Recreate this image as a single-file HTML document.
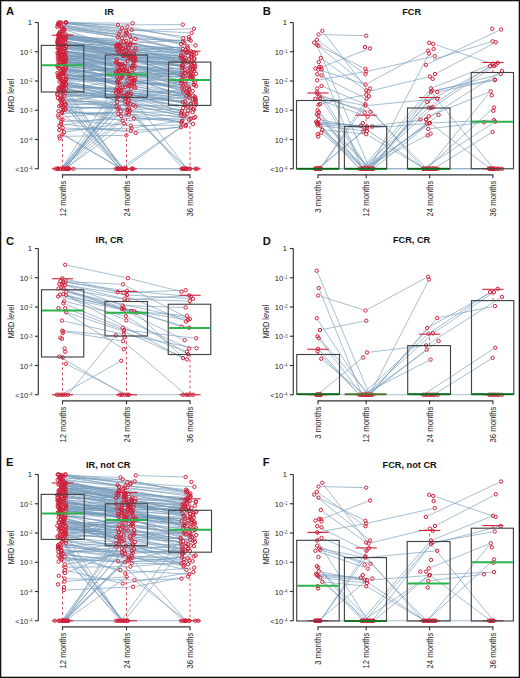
<!DOCTYPE html>
<html><head><meta charset="utf-8"><style>html,body{margin:0;padding:0;background:#fff}svg{display:block}</style></head><body>
<svg width="520" height="678" viewBox="0 0 520 678">
<style>
text{font-family:"Liberation Sans",sans-serif;fill:#1e1e1e}
.let{font-size:11.2px;font-weight:bold;fill:#111}
.ttl{font-size:9.2px;font-weight:bold;fill:#111}
.ytl{font-size:8.9px}
.tk{font-size:7.6px}
.sp{font-size:4.6px;fill:#555}
.xl{font-size:8.7px}
.ax{fill:none;stroke:#333;stroke-width:1.15}
.ln{fill:none;stroke:#7399b8;stroke-width:0.8;stroke-opacity:0.8}
.pt circle{fill:none;stroke:#cf2039;stroke-width:1.0}
.bx{fill:none;stroke:#444;stroke-width:1.15}
.md{fill:none;stroke:#2cb34a;stroke-width:2}
.mb{fill:none;stroke:#11601f;stroke-width:1.7}
.cb{fill:none;stroke:#7a4a22;stroke-width:1.1}
.wh{fill:none;stroke:#cf2039;stroke-width:0.8;stroke-dasharray:2.6 2.6}
.st{fill:none;stroke:#cf2039;stroke-width:1.1}
</style>
<rect width="520" height="678" fill="#fff"/>
<path d="M64.21,37.76L127.16,44.91M132.32,45.56L184.13,52.78M131.77,84.74L182.33,70.72M62.4,34.28L117.54,46.53M68.1,22.79L129.04,29.53M134.22,29.95L189,32.81M68.19,39.73L114.68,44.2M65.49,58.64L130.31,65.83M135.49,66.27L190.64,69.42M61.58,117.25L118.37,111.62M67.03,55.42L117.38,64.09M122.52,64.88L182.75,72.94M62.93,99.1L132.98,106.44M67.06,86.27L120.8,95.99M125.88,97.09L179.52,110.67M123.58,90.96L188.57,103.02M68,42.46L114.13,49.35M119.29,50L180.27,56.19M68.74,58.1L114.2,59.69M119.39,59.89L191.16,62.94M66.09,28.45L123.04,35.01M128.13,36.02L184,51.96M63.67,70.98L124.95,83.98M130.03,85.1L190.27,98.95M65.86,110.09L123.82,104.63M128.96,104.91L178.28,114.94M64.74,113.33L115.55,113.67M120.73,114.01L179.02,121.37M66.55,64.76L116.14,78.32M121.21,79.42L186.33,89.87M67.77,65.9L126.24,85.08M67.03,102.05L126.45,100.58M131.65,100.37L192.38,97.03M68.43,84.64L125.68,99.1M130.71,100.4L182.17,113.97M64.18,45.54L119.18,52.07M124.33,52.79L179.83,61.71M62.79,47.59L128.47,56.65M133.64,57.06L191.72,58.28M67.06,60.65L126.06,75.17M62.09,77.88L114.54,82.02M68.06,54.87L119.52,66.34M124.64,67.19L186.79,73.94M64.34,32.88L132.97,47.68M138.01,48.95L188.84,63.72M64.96,107.1L126.51,108.22M66.5,45.08L122.56,54.22M63.31,124.1L133.12,132.64M138.28,132.6L182.97,126.49M68.66,88.16L114.72,81.66M119.85,81.76L186.77,93.79M68.11,56.5L123.69,52.92M128.87,53L186.53,58.56M61.9,44.59L124.15,49.89M129.31,50.48L178.43,57.5M68.84,61.41L132.37,79.22M137.35,80.73L186.74,96.75M61.07,65.12L114.84,72.88M120.01,73.4L189.84,77.33M65.09,83.56L123.34,94.15M128.49,94.39L181.53,89.85M60.4,56.26L113.53,61.88M118.64,62.79L180.22,78.24M67.32,71.65L129.46,68.24M134.63,68.48L189.62,76.63M68.76,46.79L182.37,72.25M66.96,58.31L120.17,71.82M125.26,72.89L191.24,83.91M63.78,121.58L131.27,118.59M136.47,118.52L186.28,119.56M61.2,52.59L131.67,61.05M136.85,61.46L188.41,63.42M63.21,86.35L114.38,88.1M119.42,89.08L184.82,112.91M66.62,63.44L116.19,64.1M121.3,64.8L178.19,79.72M131.46,73.36L192.64,66.59M62.16,75.44L127.66,76.22M132.86,76.07L188.51,72.08M64.49,112.02L123.95,112.88M65.11,92.38L115.87,94.94M121.03,95.5L188.23,106.73M67.02,84.01L113.45,92.32M61.1,24.54L115.2,36.57M61.85,33.42L128.07,43.67M133.22,44.38L188.19,50.95M64.48,29.65L120.38,47.8M125.45,48.82L191.05,54.34M60.02,73.53L129.03,83.68M65.39,69.85L119.52,76.4M124.7,76.7L188.74,76.55M60.25,67.3L118.22,78.07M123.35,78.94L186.59,88.57M60.09,94.87L114.65,98.04M61.6,89.26L119.9,95.71M125.08,96.22L182.64,101.29M63.44,37.09L121.26,41.51M126.41,42.18L188.85,53.62M67.16,96.27L124.36,94.25M129.53,94.55L193.18,104.42M62.69,51.12L130.29,64.81M60.29,48.54L120.65,55.51M125.76,56.42L186.1,70.82M67.48,103.81L130.69,105.11M135.83,105.7L191.1,117.41M65.96,80.91L129.27,82.61M134.46,82.78L191.73,84.91M62.05,136.32L123.78,135.41M62.8,90.4L116.24,91.79M121.36,92.49L180.66,107.35M68.99,76.26L126.47,74.93M131.56,75.64L180.7,90.84M64.19,80.95L127.49,94.97M132.63,95.5L186.47,94.94M61.13,77L131.52,83.36M136.71,83.54L192.59,82.41M62.71,62.75L124.7,71.31M129.87,71.81L188.46,75.01M63.24,105.25L114.39,102.22M119.57,102.37L185.53,110.17M66.65,131.79L121.23,123.68M61.93,125.46L126.25,114.88M131.42,114.55L181.49,116.2M61.92,23.49L119.43,27.98M124.6,28.53L186.12,36.78M65.78,91.93L113.98,105.25M119.08,105.92L182.47,105.51M62.75,40.3L116.02,51.47M68,34.97L117.81,45.78M61.02,54.74L132.76,76.86M66.99,38.53L126.99,50M132.14,50.31L184.56,46.77M65.04,73.23L132.66,87.2M64.38,55.75L127.31,58.09M132.37,59.02L187.54,77.58M65.71,64.79L113.45,71.69M118.62,72.17L178.57,74.58M64.98,100.06L127.37,110.17M68.51,79.86L129.12,78.16M134.28,78.57L179.4,87.16M61.68,35.75L118.31,42.33M123.47,42.98L184.7,51.37M62.32,50.36L121.69,68.91M61.33,87.65L128.69,88.61M133.86,89L183.8,95.88M59.93,94.03L123.61,97.28M128.8,97.63L180.04,101.96M60.88,25.68L123.09,33.16M128.24,33.89L181.79,42.63M62.16,61.06L131.29,80.15M136.4,80.76L179.41,79.42M62.82,79.56L128.86,81.68M60.46,40.42L119.19,48.62M68.64,78.22L116.51,71.63M60.27,42.8L122.36,53.45M127.52,54.09L191.64,59.08M68.51,37.05L114.8,45.13M119.93,46.03L182.16,56.95M68.92,47.29L127.14,56.21M132.27,57.04L187.6,66.34M64.54,43.88L116.14,51.25M121.28,52.03L184.33,62.17M68.54,46.31L131.82,56.97M136.93,57.91L190.43,68.59M68.87,22.67L124.85,26.39M129.99,27.1L180.63,37.77M64.92,87.77L125.32,102.23M130.42,102.45L185.73,93.98M65.66,69.72L116.42,82.5M121.54,83.24L193.53,86.22M62.23,52.65L130.54,53.48M135.73,53.62L178.78,55.4M60.87,74.21L115.17,68M120.26,68.39L180.55,84.97M68.5,68.41L131.96,85.67M137.03,86.75L190.6,95.17M61.1,35.93L123.5,40.6M128.6,41.5L178.06,55.28M63.68,36.17L128.52,39.74M133.67,40.33L180.29,48.52M68.27,51.56L129.54,58.3M134.58,59.44L190.52,78.95M61.52,60.15L116.86,70.02M121.95,71.08L186.04,86.38M65.52,74.55L117.29,84.48M68.75,78.78L115.85,74.29M121.01,74.42L182.79,83.31M63.61,54.85L133.14,60.36M138.31,60.87L190.65,66.94M66.35,88.66L127.7,103.02M65.89,44.28L120.84,54.54M125.98,55.34L191.9,63.65M61.9,36.75L113.52,45.52M118.68,46.03L185.42,47.72M66.07,73L116.42,88.35M121.48,89.48L192.94,99.82M68.04,67.76L114.52,76.68M62.43,57.69L120.54,73.75M62,75.17L124.7,80.18M129.87,80.73L184.27,87.96M68.57,38.87L115.85,48.82M120.99,49.5L193.71,53.47M65.76,59.59L132.15,65.49M137.3,66.16L190.21,75.18M61.86,130L129.05,128.2M134.22,127.74L179.74,120.96M61.75,106.35L115.07,108.91M120.27,109.06L191.44,109.63M62.39,47.27L113.57,61.84M118.62,63.07L180.28,75.56M63.16,71.26L131.76,68.98M136.88,69.54L179.17,80.39M66.34,51.28L130.63,59.83M135.78,60.51L192.2,67.83M60.01,43.43L124.02,55.72M129.17,56.37L180.61,59.59M67.16,62.89L121.14,66.35M63.54,22.98L124.25,32.17M129.36,33.11L178.49,43.68M64.02,27.79L127.29,35.89M132.39,36.85L191.15,51.57M63.24,48.53L123.41,47.51M60.53,43.48L132.02,50.61M137.16,51.37L182.31,60.2M63.16,22.53L129.99,23.28M61.57,42.17L119.25,50.86M124.41,51.46L188.39,56.71M62.6,50.67L130.77,61.35M135.94,61.75L189.23,61.65M61.16,49.84L114.94,62.36M120.05,63.28L187.32,72.02M63.6,37.58L126.03,47.44M131.2,47.95L182.98,50.05M60.91,62.1L122.6,63.29M127.8,63.46L179.37,65.73M61.07,43.03L126.36,52.75M131.45,53.77L187.59,67.99M65.63,76.5L125.78,91.68M130.86,92.8L188.05,103.67M60.93,44.12L116.94,44.8M122.12,45.19L189,54.67M63.94,26.44L116.13,34.02M121.28,34.76L192.93,45.05M67.78,93.82L126.36,111.39M131.45,112.14L189.9,112.14M61.43,66.16L129.72,72.61M134.88,73.28L182.68,81.27M68.41,69.42L120.35,86.02M62.08,82.14L115.76,90.54M120.93,90.99L184,92.22M63.87,57.61L119.33,63.47M124.45,64.29L184.91,77.39M60.61,47.86L125.61,55.13M66.35,61.98L119.78,74.73M66.22,92.09L122.29,100.89M127.4,101.82L178.4,112.44M61.08,22.81L123.45,30.41M128.63,30.65L191.3,28.84M65.89,85.55L116.55,89.37M66.12,107.85L116.06,107.51M121.19,108.1L178.92,122.19M66.25,41.13L131.08,53.77M136.21,54.57L181.02,59.92M59.89,27.21L119.38,37.6M68.02,110.02L120.01,120.38M125.16,120.75L192.69,117.25M67,29.89L132.94,38.62M138.12,39.05L188.08,40.6M60.51,58.7L132.15,58.97M137.33,59.3L179.95,64.59M66.35,55.54L125.24,60.74M130.43,61.17L180.75,65.17M67.91,61.44L120.74,69.68M125.76,70.94L185.81,92.07M65.61,83.3L123.07,98.31M128.17,99.27L184.35,106.02M63.78,39.09L124.93,43.36M130.12,43.37L186.45,39.66M62.73,100.22L128.24,93.94M60.35,24.96L117.36,31.35M122.51,32.06L180.26,41.45M66.95,64L116.85,69.03M66.48,53.78L132.66,57.64M137.85,57.97L182.36,61M68.32,22.62L115.35,24.82M120.55,24.92L180.19,24.6M123.38,65.23L193.43,73.45M60.01,53.51L127.11,67.95M61.48,68.57L130.7,79.08M135.75,80.24L192.95,98.1M66.37,71.57L122.31,86.59M127.38,87.67L192.34,97.81M61.95,52.66L123.46,70.16M60.99,41.82L130.8,58.77M135.86,59.95L179.93,69.92M61.02,89.75L114.85,96.58M120.02,96.7L190.12,91.15M61.09,111.36L118.63,115.85M123.8,116.34L190.35,123.63M64.41,102.48L113.6,93.69M118.75,93.55L193.23,102.52M64.64,81.73L118.59,90.96M123.73,91.73L192.86,100.53M65.02,97.68L125.11,109.32M130.24,110.18L188.11,118.41M60.65,35.59L117.17,46.23M60.42,97.65L113.71,90.38M62.01,59.35L122.16,66.98M127.24,68L178.62,82.32M65.15,119.83L128.19,125.48M133.38,125.68L183.2,125.06M65.29,128.08L128.2,130.44M133.39,130.37L178.48,127.41M67.31,166.64L123.29,89.37M66.93,166.64L116.95,97.18M64.03,166.84L123.09,103.2M65.07,166.83L115.92,110.96M64.09,166.95L128.36,105.41M67.51,167.21L131.77,120.01M63.9,166.65L128.72,78.35M62.96,166.77L132.42,85.57M67.7,167.05L126.85,116.16M62.56,166.58L120.66,78.88M66.36,166.69L133.65,79.69M63.75,167.07L126.86,113.81M62.94,166.79L129.58,90.6M66.15,104.07L121.2,166.8M64.74,135.57L119.72,167.45M63.77,113.78L119.44,166.95M61.85,102.43L118.31,166.8M63.62,104.84L121.25,166.85M67.58,90.65L120.64,166.62M66.21,98.37L122.42,166.74M63.92,89.26L120.55,166.65M64.72,135.59L118.13,167.42M64.09,99.21L117.99,166.72M68.18,168.75L117.65,168.75M65.33,168.75L119.43,168.75M125.62,167.23L193.17,118.64M122.18,167.28L193.14,118.59M131.63,97.58L185.52,166.7M120.18,97.03L181.09,166.79M129.51,111.64L185.56,166.92M130.71,113.96L184.81,166.93M122.68,168.75L183.1,168.75M125.58,168.75L185.19,168.75" class="ln"/>
<path d="M317.77,47.14L368.65,166.36M319.72,64.41L360.93,166.34M320.73,70.29L363.02,83.71M318.18,94.42L365.51,166.58M322.55,103.49L363.7,95.26M319.23,112.19L367.94,166.81M320.33,114.32L360.26,166.68M319.74,124.68L357.69,166.82M319.3,127.12L357.63,166.88M323.26,134.4L363.16,167.1M319.57,167.1L360.99,133.15M318.77,168.75L369.93,168.75M367.79,83.26L425.81,51.94M370.87,166.44L427.81,55.91M369.58,126.19L423.52,119.71M371.39,166.8L435.58,93.95M372.26,166.77L425.42,103.98M363.76,167L426.68,109.45M367.1,167L431.07,109.05M368.35,167.2L436.51,116.55M370.45,167.16L424.64,125.29M364.16,167.57L428.28,134.78M369.53,168.75L429.57,168.75M429.37,100.74L495.43,64.06M430.75,106.24L487.85,67.56M435.15,105.84L491.75,67.56M428.29,118L499.81,72.3M439.85,91.47L492.35,80.63M425.47,167.33L493.02,123.12M435.85,167.37L490.4,133.28M428.09,168.75L489.97,168.75M321.1,34.57L363.6,35.63M320.83,46.85L363.07,67.65M323.63,66.27L367.57,49.43M319.76,79.84L363.64,71.96M437.31,72.8L493.49,43.5M433.42,87.44L490.48,64.76M434.66,90.15L492.14,79.95M323.88,32.87L366.92,89.33M319.02,41.3L363.28,72.7M316.21,44.25L367.99,86.85M322.91,59.51L364.09,88.99M319.53,75.36L364.17,97.64M323.9,87L363,103.2M319.62,94.66L362.18,111.64M321.75,97.01L362.85,105.19M322.81,98.69L367.99,111.11M317.86,99.63L365.24,115.67M321.36,119.97L362.04,127.53M318.79,122.03L358.21,125.47M319.5,123.26L369.7,126.34M320.79,124.42L364.31,128.08M322.88,126L364.32,130.8M324.89,130.06L363.61,133.94M368.74,70.93L432.16,56.67M371.03,90.79L427.37,77.21M367.99,105.45L434.61,99.05M369.49,128.1L426.61,123.6M435.66,44.73L493.14,64.07M428.25,63.79L498.75,30.61M433.52,91.45L498.18,74.65M431.21,115.33L488.29,92.27M432.5,122.88L491.4,120.22M430.88,128.59L481.52,122.61M321.77,166.64L363.89,107.81M320.37,167.09L364.9,129.96M321.82,166.59L367.45,98.36M318.6,116.17L362.21,166.78M318.04,123.64L361.33,166.91M318.59,90.7L366.57,166.55M324.27,131.5L365.6,167.05M320.01,117.56L368,166.89M320.06,168.75L358.87,168.75M374.14,166.68L430.52,92.67M366.65,166.78L430.41,92.57M375.64,167.11L427.88,124.64M365.31,167.28L427.76,124.47M363.51,166.78L429.3,90.37M362.96,127.15L422.57,167.3M367.13,106.14L421.46,166.81M367.21,107.57L424.75,166.88M368.44,135.52L422.49,167.43M376.23,168.75L422.13,168.75M428.88,166.74L489.05,93.31M428.48,167L492.08,109.25M431.98,124.57L488.48,167.18M432.64,94.11L491.97,166.74M429.16,168.75L489.49,168.75M432.98,59.73L490.12,42.07" class="ln"/>
<path d="M61.64,357.82L122.27,393.43M68.12,364.97L124.94,393.58M69.56,392.73L114.17,337.42M63.48,393.47L118.94,362.08M61.1,394.75L124.66,394.75M67.74,265.34L125.36,277.56M130.42,278.74L178.98,291.06M125.08,342.88L184.11,393.07M124.46,394.75L187.73,394.75M64.83,278.9L120.97,292.1M63,281.33L120.3,284.27M68.35,282.02L115.15,291.58M65.88,282.45L124.32,290.45M61.97,284.42L124.33,294.58M64.83,284.6L121.87,298.2M67.65,285.88L120.05,304.72M63.86,288.36L125.14,299.34M61,289.23L121,306.77M65.75,289.36L119.45,308.14M68.68,292.47L121.72,308.83M65.82,294.82L128.68,310.38M62.54,295.17L131.46,310.73M68.6,296.21L123.9,319.39M60.65,297.03L133.95,312.17M66.73,301.91L123.27,315.59M65.7,304.29L120.1,326.71M60.7,309.48L121.6,347.82M67.64,309L121.76,329.1M68.67,313.11L121.33,330.39M64.44,321.17L121.26,333.83M64.89,330.86L121.81,336.64M65.87,331.92L120.53,340.78M125.21,285.59L187.49,317.81M129.49,291.03L188.21,296.27M120.09,293.13L183.61,320.47M126.1,292.6L183,290.3M129.5,295.15L190.5,298.65M127,298.9L187.2,301.1M130.29,299.61L186.61,295.59M125.1,305.68L183,307.42M125.97,308.32L179.03,325.88M124.23,310.16L182.27,339.04M126.77,310.02L185.33,319.58M133.7,311.72L186.7,326.98M136.59,311.52L184.31,315.58M138.36,314.51L181.24,356.29M128.02,317.56L185.68,352.84M128.67,321.46L186.83,347.44M124.94,328.61L184.46,350.79M126.78,330.3L193.62,338M126.17,332.26L184.53,358.34M126.35,334.89L193.95,347.81M68.49,296.43L180.81,356.87M68.74,292.26L187.26,318.44" class="ln"/>
<path d="M317.77,273.14L368.65,392.36M319.72,290.41L360.93,392.34M320.73,296.29L363.02,309.71M318.18,320.42L365.51,392.58M322.55,329.49L363.7,321.26M319.23,338.19L367.94,392.81M320.33,340.32L360.26,392.68M319.74,350.68L357.69,392.82M319.3,353.12L357.63,392.88M323.26,360.4L363.16,393.1M319.57,393.1L360.99,359.15M318.77,394.75L369.93,394.75M367.79,309.26L425.81,277.94M370.87,392.44L427.81,281.91M369.58,352.19L423.52,345.71M371.39,392.8L435.58,319.95M372.26,392.77L425.42,329.98M363.76,393L426.68,335.45M367.1,393L431.07,335.05M368.35,393.2L436.51,342.55M370.45,393.16L424.64,351.29M364.16,393.57L428.28,360.78M369.53,394.75L429.57,394.75M429.37,326.74L495.43,290.06M430.75,332.24L487.85,293.56M435.15,331.84L491.75,293.56M428.29,344L499.81,298.3M439.85,317.47L492.35,306.63M425.47,393.33L493.02,349.12M435.85,393.37L490.4,359.28M428.09,394.75L489.97,394.75" class="ln"/>
<path d="M61.57,503.79L131.18,506.94M136.37,507.31L190.75,512.5M67.6,506.15L124.22,519.46M60.93,555.09L121.56,541.21M126.5,541.62L181.92,564.27M62.32,544.53L119.27,551.76M124.45,552.05L187.22,551.03M62.53,502.44L116.26,507.97M121.44,508.45L179.96,513.13M64.88,490.82L132.92,498.22M138.1,498.56L185.19,499.65M60.32,507.47L129.86,518.83M135.02,519.45L191.16,523.91M126.68,500.94L187.5,516.3M65.54,510.69L122,516.24M127.15,516.97L192.04,529.02M60.66,545.53L128.84,555.44M134.01,555.98L181.44,559.16M60.66,549.26L126.48,556.46M131.67,556.77L179.42,557.34M62.07,513.96L124.95,514.51M130.15,514.65L191.43,517.41M64.03,515.57L115.25,528.16M120.34,529.19L190.31,540.17M63.38,485.16L116.51,489.84M121.67,490.47L183,499.9M67.57,518.66L116.54,531.25M121.66,531.91L186.53,532.23M67.03,521.35L121.08,527.25M126.17,528.21L188.25,544.76M63.88,489.65L127.76,504.88M132.84,506L182.08,515.82M63.81,496.77L124.25,502.33M129.44,502.69L192.36,505.5M65.44,538.09L125.67,530.96M130.84,530.9L186.77,536.16M66.39,481.53L122.22,494.73M127.35,495.41L187.31,497.3M63.94,528.02L127.39,535.94M132.55,536.59L178.25,542.33M65.93,492.22L125.92,505.33M68.43,498.14L129.35,500.65M134.53,501.04L180.35,505.93M65.29,554.11L122.22,561.96M127.39,562.1L191.13,556.61M63.53,477.49L122.9,485.49M128.07,486.04L184.51,490.42M68.84,532.68L131.6,530.14M61.18,561.29L130.16,553.32M61.02,518.18L118.71,533.72M123.82,534.6L187.78,539.67M62.19,501.6L126.05,506.09M131.25,506.3L182.25,506.78M66.06,540.08L120.18,554.22M125.23,555.48L183.87,569.31M67.82,536.35L131.54,548.8M62.7,557.79L129.19,563.05M134.38,563.3L185.52,564.22M65.09,525.78L116.75,538.75M63.51,530.82L133.28,518.9M138.42,518.83L181.56,524.95M64.03,550.26L127.62,558.28M132.8,558.68L186.85,560.25M63.89,485.79L121.66,488.27M126.85,488.62L186.93,494.24M67.01,485.93L113.56,497.42M118.65,498.47L179.69,508.74M62.44,512.16L116.13,516.67M121.32,516.96L182.59,518.66M62.7,532.94L126.1,524.15M62.27,499.44L127.06,506.39M132.24,506.83L184.19,510.18M63.95,480.89L121.18,492.11M126.31,492.95L193.19,501.73M67.89,484.65L122.02,494.41M127.15,495.24L181.47,502.89M62.3,508.86L121.81,515.8M126.97,516.47L181.87,524.34M61.56,490.65L130.65,503.82M135.77,504.77L190.58,514.67M130.37,517.69L187.77,518.11M65.33,521.81L119.87,526.68M125.05,527.1L182.3,531.36M63.69,511.08L121.27,517.01M126.46,517.41L185.14,520.39M60.96,485.02L123.39,496.22M60.76,547.22L179.58,554.26M67.22,482.99L115.66,491.33M120.81,492.02L183.85,498.1M64.86,509.39L130.14,511.31M135.23,512.14L192.35,529.41M66.54,589.96L130.62,587.01M135.77,586.4L185.39,576.99M68.35,483.51L125.96,493.52M65.01,499.51L116.16,514.2M121.25,515.08L188.51,519.17M60.46,474.98L124.62,487.05M129.75,487.89L188.06,496.06M64.01,554.94L125.56,560.24M130.68,559.86L179.74,548.12M61.06,513.04L118.86,503.89M124,503.87L187.44,513.55M61.35,529.42L120.01,522.24M67.36,570.72L120.18,582.92M125.28,583.1L190.76,572.52M64.22,517.94L130.92,544.05M135.91,545.38L180.18,552.06M61.27,494.39L128.08,506.97M133.23,507.61L193.75,511.38M62.1,478.27L120.03,479.33M125.18,479.86L184.37,491.1M68.93,506.29L122.95,513.78M128.1,514.45L189.7,522M61.84,527.94L129.61,520.94M134.74,521.24L187.63,533.06M63.74,551.76L122.8,572.52M127.84,573.17L191.61,567.92M64.84,501.4L114.04,508.27M119.14,509.25L187.7,525.89M66.33,488.34L120.31,489.18M125.47,489.67L187.18,500.44M68.7,525.84L121.72,519.18M67.17,581.33L124.05,576.96M67.38,572.05L121.5,551.17M126.52,549.98L185.75,544.29M65.39,487.28L129.47,499.37M134.58,500.35L193.26,511.65M66.17,520.93L119.94,540.37M68.51,495.85L119.28,504.65M59.97,500.81L130.23,515.19M135.36,516.03L192.43,523.19M63.49,520.26L129.17,539.28M134.2,540.56L182.58,551.12M65.3,541.63L113.78,547.15M62.2,527.46L130.95,534.75M136.14,534.91L181.29,533.05M62.1,510.02L133.32,519.3M68.26,474.76L132.03,481.07M137.15,481.88L187.84,492.96M63.91,493.3L113.72,503.4M118.86,504.16L186.35,510.7M68.03,567.26L127.8,566.65M132.99,566.42L180.95,562.51M68.66,534.93L113.89,536.78M119.09,536.95L177.94,538.43M63.41,528.88L115.93,532.35M121.11,532.75L191.61,538.96M64.07,542.94L126.63,558.89M60.44,474.8L124.71,482.15M129.89,482.62L191.81,486.72M62.72,520.06L116.4,543.34M121.25,545.21L180.82,565.4M61.76,522.73L130.27,526.16M135.43,526.76L189.5,536.63M66.94,532.63L132.32,541.53M61.95,512.74L115.34,513.7M120.37,514.67L178.15,536.86M62.46,535.43L116.34,537.42M121.5,537.94L185.51,548.48M65.92,486.34L123.19,492.77M128.32,493.58L179.43,503.92M61.19,491.2L128.01,498.66M133.19,499.12L183.69,502.49M62.5,509.43L130.45,522.67M60.24,480.07L114.91,484.77M120.09,485.28L183.14,492.27M66.66,488.1L129.41,501.57M134.54,502.43L183.47,508.27M68.05,529.6L128.17,538.39M133.34,538.89L180.57,541.14M64.3,537.12L129.96,543.5M135.15,543.8L178.99,544.68M62.86,482.4L116.25,490.53M121.4,491.23L184.37,498.8M62.19,503.48L122.51,507.67M127.6,508.57L188.87,526.38M67.3,578.73L131.86,580.08M137.06,580.05L178.82,578.78M61.6,499.73L125.68,504.51M130.87,504.84L188.83,507.85M64.58,531.93L121,535.48M126.13,536.25L179.6,548.99M68.7,540.61L123.35,545.39M128.48,546.15L184.99,557.83M65.36,525.43L116.34,541.71M68.15,530.2L117.84,529.45M60.42,504.25L128.65,509.61M67.24,557.23L117.75,569.39M122.88,570.16L186.7,574.14M63.4,552.57L128.1,546.75M133.29,546.59L185.6,548.13M68.57,543.8L129.82,557.12M134.95,557.97L178.86,562.98M63.45,524.29L123.95,528M129.09,528.67L192.46,541.45M63.25,502.82L118.43,508.75M123.61,509.06L178.5,509.73M60.96,551.82L129.2,551.19M66.29,493.42L123.52,499.14M128.7,499.48L193.33,501.4M66.88,534.93L119.37,547.76M124.49,548.62L193.11,555.15M67.47,515.86L128.31,525.27M133.46,526.03L193.61,534.65M67.34,496.43L119.41,509.94M124.52,510.47L185.52,507.52M66.96,523.53L130.54,521.39M135.71,521.71L190.04,530.44M66.31,519.07L131.97,533.22M137.06,534.25L183.52,542.87M62.08,479.11L116.32,486.34M66.27,476.34L128.03,483.02M133.2,483.59L183.41,489.36M63.8,513.59L116.92,524.52M122.07,525.15L180.43,527.6M67.59,490.09L129.65,497.29M68.58,489.14L132.39,500.75M137.54,501.41L181.85,504.83M67.46,563.99L122.44,554.4M127.59,553.79L180.03,550.45M68.28,516.44L130.38,515.36M67.57,526.87L122.11,531.08M127.22,531.92L183.13,546.18M62.47,507.98L129.71,512.39M64.14,516.24L121.77,522.28M126.95,522.56L185.04,522.9M67.65,491.76L125.51,502.55M64.68,475.6L117.83,477.34M61.86,545.98L113.58,543.26M118.74,543.52L180.3,553.03M61.66,505.1L119.48,511.87M63.97,505.39L128.24,510.77M133.38,511.5L179.05,520.61M65.48,487.75L123.84,501.09M128.97,501.76L184.56,503.75M68.28,492.22L115.59,495.59M66.48,498.36L121.35,497.19M62.45,489.64L115.97,494.2M64.17,559.58L115.65,561.3M120.85,561.39L190.15,561.31M65.92,507.52L118.58,509.33M123.77,509.68L180.95,515.47M138.43,475.55L182.95,476.9M68.16,511.27L129.41,513.26M134.53,513.96L181.36,525.3M64.88,488.19L113.84,493.25M61.51,500.45L118.85,512.42M123.98,513.21L189.28,519.67M61.15,522.74L118,537.48M68.23,484.35L121.63,495.69M68.46,508.33L124.75,511.63M129.94,511.89L190.24,514.43M63.35,475.31L127.82,483.8M68.5,506.83L124.66,510.06M59.99,535.95L129.4,524.83M134.52,524.91L188.19,535.22M62.61,510.37L123.48,517.75M128.57,518.75L183.06,533.64M66.72,618.91L127.22,558.58M63.89,618.69L122.5,542.69M67.15,618.52L117.19,534.76M65.01,618.94L130.88,554.83M67.36,619.24L124.53,578.27M65.87,618.75L130,542M64.74,618.78L122.23,552.2M66.27,618.94L122.93,564.13M63.68,618.63L119.02,540.26M64.42,555.73L118.88,618.78M59.79,547.12L121.99,618.79M63.15,544.34L121.21,618.7M67.56,545.35L120.68,618.64M67.47,537.01L120.22,618.57M64.27,543.42L120.23,618.66M60.13,553.75L120.55,618.84M65.04,620.75L119.13,620.75M64.02,620.75L120.7,620.75M122.69,618.64L179.01,540.6M125.79,618.74L188.73,541.89M125.65,552.18L184.25,618.8M136.51,581.73L184.43,619.15M120.17,563.14L181.78,619M122.64,620.75L181.35,620.75" class="ln"/>
<path d="M321.1,486.57L363.6,487.63M320.83,498.85L363.07,519.65M323.63,518.27L367.57,501.43M319.76,531.84L363.64,523.96M437.31,524.8L493.49,495.5M433.42,539.44L490.48,516.76M434.66,542.15L492.14,531.95M323.88,484.87L366.92,541.33M319.02,493.3L363.28,524.7M316.21,496.25L367.99,538.85M322.91,511.51L364.09,540.99M319.53,527.36L364.17,549.64M323.9,539L363,555.2M319.62,546.66L362.18,563.64M321.75,549.01L362.85,557.19M322.81,550.69L367.99,563.11M317.86,551.63L365.24,567.67M321.36,571.97L362.04,579.53M318.79,574.03L358.21,577.47M319.5,575.26L369.7,578.34M320.79,576.42L364.31,580.08M322.88,578L364.32,582.8M324.89,582.06L363.61,585.94M368.74,522.93L432.16,508.67M371.03,542.79L427.37,529.21M367.99,557.45L434.61,551.05M369.49,580.1L426.61,575.6M435.66,496.73L493.14,516.07M428.25,515.79L498.75,482.61M433.52,543.45L498.18,526.65M431.21,567.33L488.29,544.27M432.5,574.88L491.4,572.22M430.88,580.59L481.52,574.61M321.77,618.64L363.89,559.81M320.37,619.09L364.9,581.96M321.82,618.59L367.45,550.36M318.6,568.17L362.21,618.78M318.04,575.64L361.33,618.91M318.59,542.7L366.57,618.55M324.27,583.5L365.6,619.05M320.01,569.56L368,618.89M320.06,620.75L358.87,620.75M374.14,618.68L430.52,544.67M366.65,618.78L430.41,544.57M375.64,619.11L427.88,576.64M365.31,619.28L427.76,576.47M363.51,618.78L429.3,542.37M362.96,579.15L422.57,619.3M367.13,558.14L421.46,618.81M367.21,559.57L424.75,618.88M368.44,587.52L422.49,619.43M376.23,620.75L422.13,620.75M428.88,618.74L489.05,545.31M428.48,619L492.08,561.25M431.98,576.57L488.48,619.18M432.64,546.11L491.97,618.74M429.16,620.75L489.49,620.75" class="ln"/>
<path d="M62.5,92V168.75" class="wh"/>
<path d="M62.5,45.4V35.2" class="wh"/>
<path d="M126.5,97.3V168.75" class="wh"/>
<path d="M126.5,55V43.8" class="wh"/>
<path d="M190,105.4V168.75" class="wh"/>
<path d="M190,62.1V51.2" class="wh"/>
<path d="M318,100.5V93" class="wh"/>
<path d="M366.2,126.4V115.2" class="wh"/>
<path d="M429.6,108V97.5" class="wh"/>
<path d="M492.9,72.5V62.5" class="wh"/>
<path d="M62.5,357V394.75" class="wh"/>
<path d="M62.5,289.75V278.75" class="wh"/>
<path d="M126.5,336V394.75" class="wh"/>
<path d="M126.5,301.5V291.5" class="wh"/>
<path d="M190,354.5V394.75" class="wh"/>
<path d="M190,304.25V295.25" class="wh"/>
<path d="M318,354.5V349.25" class="wh"/>
<path d="M429.6,345.6V334.2" class="wh"/>
<path d="M492.9,300.6V289.3" class="wh"/>
<path d="M62.5,539.4V620.75" class="wh"/>
<path d="M62.5,494.4V483" class="wh"/>
<path d="M126.5,545.7V620.75" class="wh"/>
<path d="M126.5,503.8V492.6" class="wh"/>
<path d="M190,552.2V620.75" class="wh"/>
<path d="M190,510.3V498.8" class="wh"/>
<path d="M318,540.3V532.4" class="wh"/>
<path d="M366.2,557.6V547.9" class="wh"/>
<path d="M429.6,541.5V530.5" class="wh"/>
<path d="M492.9,528.2V525.6" class="wh"/>
<g class="pt"><circle cx="61.63" cy="37.47" r="1.7"/><circle cx="129.74" cy="45.2" r="1.7"/><circle cx="186.7" cy="53.14" r="1.7"/><circle cx="129.26" cy="85.43" r="1.7"/><circle cx="184.84" cy="70.03" r="1.7"/><circle cx="59.86" cy="33.72" r="1.7"/><circle cx="120.08" cy="47.09" r="1.7"/><circle cx="65.51" cy="22.5" r="1.7"/><circle cx="131.62" cy="29.81" r="1.7"/><circle cx="191.6" cy="32.95" r="1.7"/><circle cx="65.6" cy="39.48" r="1.7"/><circle cx="117.27" cy="44.45" r="1.7"/><circle cx="62.91" cy="58.35" r="1.7"/><circle cx="132.89" cy="66.12" r="1.7"/><circle cx="193.23" cy="69.56" r="1.7"/><circle cx="58.99" cy="117.5" r="1.7"/><circle cx="120.96" cy="111.36" r="1.7"/><circle cx="66.32" cy="84.45" r="1.7"/><circle cx="64.47" cy="54.98" r="1.7"/><circle cx="119.94" cy="64.53" r="1.7"/><circle cx="185.32" cy="73.29" r="1.7"/><circle cx="60.35" cy="98.83" r="1.7"/><circle cx="135.56" cy="106.71" r="1.7"/><circle cx="64.5" cy="85.81" r="1.7"/><circle cx="123.36" cy="96.45" r="1.7"/><circle cx="182.04" cy="111.31" r="1.7"/><circle cx="121.02" cy="90.48" r="1.7"/><circle cx="191.12" cy="103.5" r="1.7"/><circle cx="65.43" cy="42.07" r="1.7"/><circle cx="116.7" cy="49.73" r="1.7"/><circle cx="182.86" cy="56.45" r="1.7"/><circle cx="66.14" cy="58.01" r="1.7"/><circle cx="116.8" cy="59.78" r="1.7"/><circle cx="193.76" cy="63.05" r="1.7"/><circle cx="63.51" cy="28.15" r="1.7"/><circle cx="125.63" cy="35.3" r="1.7"/><circle cx="186.5" cy="52.67" r="1.7"/><circle cx="61.12" cy="70.44" r="1.7"/><circle cx="127.49" cy="84.51" r="1.7"/><circle cx="192.8" cy="99.53" r="1.7"/><circle cx="63.27" cy="110.34" r="1.7"/><circle cx="126.41" cy="104.39" r="1.7"/><circle cx="180.83" cy="115.46" r="1.7"/><circle cx="62.14" cy="113.31" r="1.7"/><circle cx="118.15" cy="113.69" r="1.7"/><circle cx="181.6" cy="121.69" r="1.7"/><circle cx="64.04" cy="64.08" r="1.7"/><circle cx="118.65" cy="79.01" r="1.7"/><circle cx="188.9" cy="90.29" r="1.7"/><circle cx="65.3" cy="65.09" r="1.7"/><circle cx="128.71" cy="85.89" r="1.7"/><circle cx="64.43" cy="102.12" r="1.7"/><circle cx="129.05" cy="100.51" r="1.7"/><circle cx="194.98" cy="96.89" r="1.7"/><circle cx="65.91" cy="84" r="1.7"/><circle cx="128.2" cy="99.74" r="1.7"/><circle cx="184.68" cy="114.63" r="1.7"/><circle cx="64.65" cy="48.92" r="1.7"/><circle cx="61.59" cy="45.24" r="1.7"/><circle cx="121.76" cy="52.38" r="1.7"/><circle cx="182.4" cy="62.12" r="1.7"/><circle cx="60.22" cy="47.23" r="1.7"/><circle cx="131.05" cy="57" r="1.7"/><circle cx="194.32" cy="58.34" r="1.7"/><circle cx="64.54" cy="60.03" r="1.7"/><circle cx="128.59" cy="75.79" r="1.7"/><circle cx="59.74" cy="37.75" r="1.7"/><circle cx="59.5" cy="77.67" r="1.7"/><circle cx="117.13" cy="82.22" r="1.7"/><circle cx="65.52" cy="54.31" r="1.7"/><circle cx="122.05" cy="66.91" r="1.7"/><circle cx="189.38" cy="74.22" r="1.7"/><circle cx="61.8" cy="32.33" r="1.7"/><circle cx="135.51" cy="48.22" r="1.7"/><circle cx="191.34" cy="64.44" r="1.7"/><circle cx="62.36" cy="107.05" r="1.7"/><circle cx="129.11" cy="108.26" r="1.7"/><circle cx="63.93" cy="44.66" r="1.7"/><circle cx="125.12" cy="54.64" r="1.7"/><circle cx="65.85" cy="104.58" r="1.7"/><circle cx="61.24" cy="44.95" r="1.7"/><circle cx="63.2" cy="30.94" r="1.7"/><circle cx="58.79" cy="90.78" r="1.7"/><circle cx="60.72" cy="123.79" r="1.7"/><circle cx="135.7" cy="132.95" r="1.7"/><circle cx="185.55" cy="126.13" r="1.7"/><circle cx="66.09" cy="88.52" r="1.7"/><circle cx="117.29" cy="81.3" r="1.7"/><circle cx="189.33" cy="94.25" r="1.7"/><circle cx="65.52" cy="56.66" r="1.7"/><circle cx="126.28" cy="52.75" r="1.7"/><circle cx="189.12" cy="58.81" r="1.7"/><circle cx="59.31" cy="44.37" r="1.7"/><circle cx="126.74" cy="50.11" r="1.7"/><circle cx="181.01" cy="57.87" r="1.7"/><circle cx="66.33" cy="60.71" r="1.7"/><circle cx="134.88" cy="79.92" r="1.7"/><circle cx="189.22" cy="97.55" r="1.7"/><circle cx="58.5" cy="64.75" r="1.7"/><circle cx="117.41" cy="73.25" r="1.7"/><circle cx="192.43" cy="77.48" r="1.7"/><circle cx="62.53" cy="83.1" r="1.7"/><circle cx="125.9" cy="94.61" r="1.7"/><circle cx="184.12" cy="89.63" r="1.7"/><circle cx="57.81" cy="55.99" r="1.7"/><circle cx="116.12" cy="62.15" r="1.7"/><circle cx="182.74" cy="78.87" r="1.7"/><circle cx="64.73" cy="71.79" r="1.7"/><circle cx="132.06" cy="68.1" r="1.7"/><circle cx="192.19" cy="77.01" r="1.7"/><circle cx="66.22" cy="46.22" r="1.7"/><circle cx="184.91" cy="72.82" r="1.7"/><circle cx="60.74" cy="66.37" r="1.7"/><circle cx="64.44" cy="57.68" r="1.7"/><circle cx="122.69" cy="72.46" r="1.7"/><circle cx="193.81" cy="84.34" r="1.7"/><circle cx="61.18" cy="121.69" r="1.7"/><circle cx="133.87" cy="118.47" r="1.7"/><circle cx="188.88" cy="119.61" r="1.7"/><circle cx="58.61" cy="52.28" r="1.7"/><circle cx="134.25" cy="61.36" r="1.7"/><circle cx="191" cy="63.51" r="1.7"/><circle cx="60.61" cy="86.26" r="1.7"/><circle cx="116.98" cy="88.19" r="1.7"/><circle cx="187.26" cy="113.8" r="1.7"/><circle cx="64.02" cy="63.4" r="1.7"/><circle cx="118.79" cy="64.14" r="1.7"/><circle cx="180.7" cy="80.38" r="1.7"/><circle cx="128.88" cy="73.65" r="1.7"/><circle cx="195.23" cy="66.31" r="1.7"/><circle cx="59.56" cy="75.41" r="1.7"/><circle cx="130.26" cy="76.25" r="1.7"/><circle cx="191.11" cy="71.89" r="1.7"/><circle cx="61.89" cy="111.98" r="1.7"/><circle cx="126.55" cy="112.91" r="1.7"/><circle cx="62.51" cy="92.25" r="1.7"/><circle cx="118.47" cy="95.07" r="1.7"/><circle cx="190.8" cy="107.16" r="1.7"/><circle cx="182.08" cy="67.7" r="1.7"/><circle cx="64.46" cy="83.55" r="1.7"/><circle cx="116.01" cy="92.78" r="1.7"/><circle cx="58.56" cy="23.98" r="1.7"/><circle cx="117.74" cy="37.14" r="1.7"/><circle cx="59.28" cy="33.02" r="1.7"/><circle cx="130.64" cy="44.07" r="1.7"/><circle cx="190.77" cy="51.25" r="1.7"/><circle cx="62.01" cy="28.85" r="1.7"/><circle cx="122.86" cy="48.6" r="1.7"/><circle cx="193.64" cy="54.56" r="1.7"/><circle cx="57.44" cy="73.15" r="1.7"/><circle cx="131.61" cy="84.06" r="1.7"/><circle cx="62.81" cy="69.53" r="1.7"/><circle cx="122.1" cy="76.71" r="1.7"/><circle cx="191.34" cy="76.55" r="1.7"/><circle cx="57.69" cy="66.82" r="1.7"/><circle cx="120.78" cy="78.55" r="1.7"/><circle cx="189.16" cy="88.97" r="1.7"/><circle cx="57.49" cy="94.72" r="1.7"/><circle cx="117.24" cy="98.19" r="1.7"/><circle cx="57.67" cy="40.34" r="1.7"/><circle cx="63.85" cy="82.19" r="1.7"/><circle cx="59.02" cy="88.97" r="1.7"/><circle cx="122.49" cy="95.99" r="1.7"/><circle cx="185.23" cy="101.51" r="1.7"/><circle cx="60.85" cy="36.89" r="1.7"/><circle cx="123.85" cy="41.71" r="1.7"/><circle cx="191.41" cy="54.09" r="1.7"/><circle cx="64.56" cy="96.36" r="1.7"/><circle cx="126.96" cy="94.15" r="1.7"/><circle cx="195.75" cy="104.82" r="1.7"/><circle cx="60.14" cy="50.6" r="1.7"/><circle cx="132.84" cy="65.32" r="1.7"/><circle cx="57.71" cy="48.24" r="1.7"/><circle cx="123.23" cy="55.81" r="1.7"/><circle cx="188.63" cy="71.43" r="1.7"/><circle cx="63.14" cy="51.61" r="1.7"/><circle cx="62.71" cy="69.99" r="1.7"/><circle cx="64.89" cy="103.76" r="1.7"/><circle cx="133.29" cy="105.16" r="1.7"/><circle cx="193.64" cy="117.95" r="1.7"/><circle cx="63.36" cy="80.84" r="1.7"/><circle cx="131.86" cy="82.68" r="1.7"/><circle cx="194.33" cy="85" r="1.7"/><circle cx="61.56" cy="101.29" r="1.7"/><circle cx="59.45" cy="136.36" r="1.7"/><circle cx="126.38" cy="135.37" r="1.7"/><circle cx="60.2" cy="90.33" r="1.7"/><circle cx="118.84" cy="91.86" r="1.7"/><circle cx="183.18" cy="107.99" r="1.7"/><circle cx="66.39" cy="76.32" r="1.7"/><circle cx="129.07" cy="74.87" r="1.7"/><circle cx="183.19" cy="91.61" r="1.7"/><circle cx="61.65" cy="80.38" r="1.7"/><circle cx="130.03" cy="95.53" r="1.7"/><circle cx="189.07" cy="94.91" r="1.7"/><circle cx="58.55" cy="76.77" r="1.7"/><circle cx="134.11" cy="83.6" r="1.7"/><circle cx="195.19" cy="82.36" r="1.7"/><circle cx="60.13" cy="62.39" r="1.7"/><circle cx="127.27" cy="71.67" r="1.7"/><circle cx="191.06" cy="75.15" r="1.7"/><circle cx="60.65" cy="105.4" r="1.7"/><circle cx="116.99" cy="102.06" r="1.7"/><circle cx="188.12" cy="110.48" r="1.7"/><circle cx="60.06" cy="49.93" r="1.7"/><circle cx="64.08" cy="132.17" r="1.7"/><circle cx="123.8" cy="123.3" r="1.7"/><circle cx="59.36" cy="125.88" r="1.7"/><circle cx="128.82" cy="114.46" r="1.7"/><circle cx="184.09" cy="116.29" r="1.7"/><circle cx="59.33" cy="23.28" r="1.7"/><circle cx="122.02" cy="28.19" r="1.7"/><circle cx="188.7" cy="37.12" r="1.7"/><circle cx="63.27" cy="91.23" r="1.7"/><circle cx="116.48" cy="105.94" r="1.7"/><circle cx="185.07" cy="105.5" r="1.7"/><circle cx="60.2" cy="39.77" r="1.7"/><circle cx="118.56" cy="52" r="1.7"/><circle cx="58.06" cy="77.22" r="1.7"/><circle cx="58.17" cy="38.62" r="1.7"/><circle cx="65.46" cy="34.42" r="1.7"/><circle cx="120.35" cy="46.34" r="1.7"/><circle cx="58.54" cy="53.97" r="1.7"/><circle cx="135.24" cy="77.63" r="1.7"/><circle cx="64.43" cy="38.04" r="1.7"/><circle cx="129.54" cy="50.49" r="1.7"/><circle cx="187.15" cy="46.6" r="1.7"/><circle cx="62.5" cy="72.7" r="1.7"/><circle cx="135.2" cy="87.73" r="1.7"/><circle cx="60.06" cy="31.63" r="1.7"/><circle cx="62.26" cy="84.9" r="1.7"/><circle cx="61.79" cy="55.65" r="1.7"/><circle cx="129.91" cy="58.19" r="1.7"/><circle cx="190" cy="78.41" r="1.7"/><circle cx="63.14" cy="64.41" r="1.7"/><circle cx="116.03" cy="72.06" r="1.7"/><circle cx="181.17" cy="74.68" r="1.7"/><circle cx="62.41" cy="99.65" r="1.7"/><circle cx="129.94" cy="110.59" r="1.7"/><circle cx="65.91" cy="79.93" r="1.7"/><circle cx="131.72" cy="78.09" r="1.7"/><circle cx="181.96" cy="87.65" r="1.7"/><circle cx="59.1" cy="35.45" r="1.7"/><circle cx="120.89" cy="42.63" r="1.7"/><circle cx="187.28" cy="51.73" r="1.7"/><circle cx="59.84" cy="49.59" r="1.7"/><circle cx="124.17" cy="69.68" r="1.7"/><circle cx="58.73" cy="87.62" r="1.7"/><circle cx="131.29" cy="88.65" r="1.7"/><circle cx="186.38" cy="96.23" r="1.7"/><circle cx="59.97" cy="56.33" r="1.7"/><circle cx="57.33" cy="93.89" r="1.7"/><circle cx="126.21" cy="97.41" r="1.7"/><circle cx="182.64" cy="102.17" r="1.7"/><circle cx="58.3" cy="25.37" r="1.7"/><circle cx="125.68" cy="33.47" r="1.7"/><circle cx="184.36" cy="43.05" r="1.7"/><circle cx="59.65" cy="60.37" r="1.7"/><circle cx="133.8" cy="80.84" r="1.7"/><circle cx="182.01" cy="79.34" r="1.7"/><circle cx="60.22" cy="79.48" r="1.7"/><circle cx="131.46" cy="81.76" r="1.7"/><circle cx="57.89" cy="40.06" r="1.7"/><circle cx="121.77" cy="48.98" r="1.7"/><circle cx="58.15" cy="115.41" r="1.7"/><circle cx="58.1" cy="40.92" r="1.7"/><circle cx="66.07" cy="78.58" r="1.7"/><circle cx="119.09" cy="71.27" r="1.7"/><circle cx="57.7" cy="42.36" r="1.7"/><circle cx="124.93" cy="53.89" r="1.7"/><circle cx="194.23" cy="59.28" r="1.7"/><circle cx="65.94" cy="36.6" r="1.7"/><circle cx="117.37" cy="45.58" r="1.7"/><circle cx="184.72" cy="57.39" r="1.7"/><circle cx="66.35" cy="46.89" r="1.7"/><circle cx="129.71" cy="56.61" r="1.7"/><circle cx="190.17" cy="66.77" r="1.7"/><circle cx="61.97" cy="43.51" r="1.7"/><circle cx="118.71" cy="51.62" r="1.7"/><circle cx="186.9" cy="62.58" r="1.7"/><circle cx="65.97" cy="45.88" r="1.7"/><circle cx="134.38" cy="57.4" r="1.7"/><circle cx="192.98" cy="69.1" r="1.7"/><circle cx="66.28" cy="22.5" r="1.7"/><circle cx="127.44" cy="26.56" r="1.7"/><circle cx="183.18" cy="38.31" r="1.7"/><circle cx="62.39" cy="87.16" r="1.7"/><circle cx="127.85" cy="102.84" r="1.7"/><circle cx="188.3" cy="93.59" r="1.7"/><circle cx="63.14" cy="69.08" r="1.7"/><circle cx="118.94" cy="83.14" r="1.7"/><circle cx="196.12" cy="86.32" r="1.7"/><circle cx="59.63" cy="52.62" r="1.7"/><circle cx="133.14" cy="53.51" r="1.7"/><circle cx="181.37" cy="55.51" r="1.7"/><circle cx="58.28" cy="74.51" r="1.7"/><circle cx="117.76" cy="67.7" r="1.7"/><circle cx="183.05" cy="85.66" r="1.7"/><circle cx="65.99" cy="67.73" r="1.7"/><circle cx="134.46" cy="86.35" r="1.7"/><circle cx="193.17" cy="95.57" r="1.7"/><circle cx="58.51" cy="35.74" r="1.7"/><circle cx="126.1" cy="40.8" r="1.7"/><circle cx="180.56" cy="55.98" r="1.7"/><circle cx="61.08" cy="36.03" r="1.7"/><circle cx="131.11" cy="39.88" r="1.7"/><circle cx="182.85" cy="48.97" r="1.7"/><circle cx="65.69" cy="51.27" r="1.7"/><circle cx="132.12" cy="58.59" r="1.7"/><circle cx="192.97" cy="79.8" r="1.7"/><circle cx="59.25" cy="53.3" r="1.7"/><circle cx="58.97" cy="59.7" r="1.7"/><circle cx="119.42" cy="70.48" r="1.7"/><circle cx="188.56" cy="86.99" r="1.7"/><circle cx="62.97" cy="74.06" r="1.7"/><circle cx="119.84" cy="84.97" r="1.7"/><circle cx="66.17" cy="79.03" r="1.7"/><circle cx="118.44" cy="74.04" r="1.7"/><circle cx="185.37" cy="83.68" r="1.7"/><circle cx="61.02" cy="54.64" r="1.7"/><circle cx="135.73" cy="60.57" r="1.7"/><circle cx="193.23" cy="67.24" r="1.7"/><circle cx="63.81" cy="88.07" r="1.7"/><circle cx="130.24" cy="103.61" r="1.7"/><circle cx="61.3" cy="73.6" r="1.7"/><circle cx="63.34" cy="43.8" r="1.7"/><circle cx="123.4" cy="55.02" r="1.7"/><circle cx="194.48" cy="63.98" r="1.7"/><circle cx="59.34" cy="36.31" r="1.7"/><circle cx="116.08" cy="45.96" r="1.7"/><circle cx="188.02" cy="47.78" r="1.7"/><circle cx="63.58" cy="72.25" r="1.7"/><circle cx="118.91" cy="89.11" r="1.7"/><circle cx="195.51" cy="100.19" r="1.7"/><circle cx="65.48" cy="67.27" r="1.7"/><circle cx="117.07" cy="77.17" r="1.7"/><circle cx="62.54" cy="39.19" r="1.7"/><circle cx="59.92" cy="57" r="1.7"/><circle cx="123.04" cy="74.44" r="1.7"/><circle cx="59.41" cy="74.96" r="1.7"/><circle cx="127.29" cy="80.38" r="1.7"/><circle cx="186.85" cy="88.31" r="1.7"/><circle cx="66.03" cy="38.33" r="1.7"/><circle cx="118.39" cy="49.36" r="1.7"/><circle cx="196.3" cy="53.62" r="1.7"/><circle cx="63.17" cy="59.36" r="1.7"/><circle cx="134.74" cy="65.72" r="1.7"/><circle cx="192.77" cy="75.61" r="1.7"/><circle cx="57.79" cy="41.5" r="1.7"/><circle cx="62.09" cy="86.71" r="1.7"/><circle cx="59.26" cy="130.07" r="1.7"/><circle cx="131.64" cy="128.13" r="1.7"/><circle cx="182.31" cy="120.58" r="1.7"/><circle cx="60.31" cy="78.12" r="1.7"/><circle cx="59.16" cy="106.23" r="1.7"/><circle cx="117.67" cy="109.04" r="1.7"/><circle cx="194.04" cy="109.65" r="1.7"/><circle cx="59.89" cy="46.56" r="1.7"/><circle cx="116.08" cy="62.55" r="1.7"/><circle cx="182.83" cy="76.08" r="1.7"/><circle cx="60.56" cy="71.34" r="1.7"/><circle cx="134.36" cy="68.89" r="1.7"/><circle cx="181.69" cy="81.04" r="1.7"/><circle cx="64.3" cy="47.9" r="1.7"/><circle cx="63.76" cy="50.94" r="1.7"/><circle cx="133.2" cy="60.17" r="1.7"/><circle cx="194.78" cy="68.17" r="1.7"/><circle cx="57.46" cy="42.93" r="1.7"/><circle cx="126.57" cy="56.21" r="1.7"/><circle cx="183.21" cy="59.76" r="1.7"/><circle cx="64.57" cy="62.73" r="1.7"/><circle cx="123.73" cy="66.51" r="1.7"/><circle cx="65.01" cy="108.69" r="1.7"/><circle cx="60.97" cy="22.59" r="1.7"/><circle cx="126.82" cy="32.56" r="1.7"/><circle cx="181.04" cy="44.23" r="1.7"/><circle cx="61.45" cy="27.46" r="1.7"/><circle cx="129.87" cy="36.22" r="1.7"/><circle cx="193.67" cy="52.2" r="1.7"/><circle cx="60.64" cy="48.58" r="1.7"/><circle cx="126.01" cy="47.47" r="1.7"/><circle cx="57.95" cy="43.22" r="1.7"/><circle cx="134.6" cy="50.87" r="1.7"/><circle cx="184.86" cy="60.7" r="1.7"/><circle cx="60.07" cy="61.72" r="1.7"/><circle cx="60.8" cy="95.54" r="1.7"/><circle cx="193.06" cy="108.82" r="1.7"/><circle cx="60.56" cy="22.5" r="1.7"/><circle cx="132.59" cy="23.31" r="1.7"/><circle cx="58.99" cy="41.78" r="1.7"/><circle cx="121.82" cy="51.24" r="1.7"/><circle cx="190.98" cy="56.92" r="1.7"/><circle cx="60.04" cy="50.26" r="1.7"/><circle cx="133.34" cy="61.76" r="1.7"/><circle cx="191.83" cy="61.65" r="1.7"/><circle cx="63.54" cy="63.07" r="1.7"/><circle cx="58.63" cy="49.25" r="1.7"/><circle cx="117.47" cy="62.95" r="1.7"/><circle cx="189.9" cy="72.36" r="1.7"/><circle cx="61.03" cy="37.18" r="1.7"/><circle cx="128.6" cy="47.85" r="1.7"/><circle cx="185.57" cy="50.15" r="1.7"/><circle cx="58.31" cy="62.05" r="1.7"/><circle cx="125.2" cy="63.34" r="1.7"/><circle cx="181.96" cy="65.84" r="1.7"/><circle cx="58.49" cy="42.65" r="1.7"/><circle cx="128.93" cy="53.13" r="1.7"/><circle cx="190.11" cy="68.63" r="1.7"/><circle cx="63.11" cy="75.86" r="1.7"/><circle cx="128.3" cy="92.32" r="1.7"/><circle cx="190.61" cy="104.16" r="1.7"/><circle cx="58.33" cy="44.09" r="1.7"/><circle cx="119.54" cy="44.83" r="1.7"/><circle cx="191.57" cy="55.03" r="1.7"/><circle cx="61.37" cy="26.07" r="1.7"/><circle cx="118.7" cy="34.39" r="1.7"/><circle cx="195.5" cy="45.42" r="1.7"/><circle cx="65.29" cy="93.07" r="1.7"/><circle cx="128.85" cy="112.14" r="1.7"/><circle cx="192.5" cy="112.14" r="1.7"/><circle cx="58.85" cy="65.92" r="1.7"/><circle cx="132.31" cy="72.86" r="1.7"/><circle cx="185.25" cy="81.7" r="1.7"/><circle cx="65.94" cy="68.63" r="1.7"/><circle cx="122.82" cy="86.81" r="1.7"/><circle cx="59.51" cy="81.74" r="1.7"/><circle cx="118.33" cy="90.94" r="1.7"/><circle cx="186.6" cy="92.27" r="1.7"/><circle cx="61.29" cy="57.34" r="1.7"/><circle cx="121.91" cy="63.74" r="1.7"/><circle cx="187.45" cy="77.94" r="1.7"/><circle cx="58.02" cy="47.57" r="1.7"/><circle cx="128.2" cy="55.42" r="1.7"/><circle cx="63.82" cy="61.38" r="1.7"/><circle cx="122.31" cy="75.33" r="1.7"/><circle cx="63.65" cy="91.68" r="1.7"/><circle cx="124.85" cy="101.29" r="1.7"/><circle cx="180.94" cy="112.97" r="1.7"/><circle cx="58.5" cy="22.5" r="1.7"/><circle cx="126.03" cy="30.73" r="1.7"/><circle cx="193.9" cy="28.77" r="1.7"/><circle cx="63.3" cy="85.36" r="1.7"/><circle cx="119.15" cy="89.56" r="1.7"/><circle cx="64.31" cy="30.24" r="1.7"/><circle cx="63.52" cy="107.87" r="1.7"/><circle cx="118.66" cy="107.49" r="1.7"/><circle cx="181.44" cy="122.8" r="1.7"/><circle cx="63.7" cy="40.63" r="1.7"/><circle cx="133.63" cy="54.26" r="1.7"/><circle cx="183.6" cy="60.23" r="1.7"/><circle cx="57.33" cy="26.76" r="1.7"/><circle cx="121.94" cy="38.05" r="1.7"/><circle cx="57.48" cy="65.47" r="1.7"/><circle cx="65.47" cy="109.52" r="1.7"/><circle cx="122.56" cy="120.88" r="1.7"/><circle cx="195.28" cy="117.12" r="1.7"/><circle cx="64.42" cy="29.55" r="1.7"/><circle cx="135.52" cy="38.97" r="1.7"/><circle cx="190.68" cy="40.68" r="1.7"/><circle cx="57.91" cy="58.69" r="1.7"/><circle cx="134.75" cy="58.98" r="1.7"/><circle cx="182.53" cy="64.91" r="1.7"/><circle cx="63.76" cy="55.32" r="1.7"/><circle cx="127.83" cy="60.96" r="1.7"/><circle cx="183.34" cy="65.38" r="1.7"/><circle cx="65.35" cy="61.04" r="1.7"/><circle cx="123.31" cy="70.08" r="1.7"/><circle cx="188.26" cy="92.93" r="1.7"/><circle cx="63.09" cy="82.64" r="1.7"/><circle cx="125.59" cy="98.96" r="1.7"/><circle cx="186.93" cy="106.33" r="1.7"/><circle cx="61.18" cy="38.91" r="1.7"/><circle cx="127.52" cy="43.54" r="1.7"/><circle cx="189.05" cy="39.49" r="1.7"/><circle cx="59.74" cy="138.45" r="1.7"/><circle cx="60.14" cy="100.47" r="1.7"/><circle cx="130.83" cy="93.7" r="1.7"/><circle cx="194.28" cy="70.96" r="1.7"/><circle cx="57.77" cy="24.67" r="1.7"/><circle cx="119.95" cy="31.64" r="1.7"/><circle cx="182.83" cy="41.86" r="1.7"/><circle cx="64.36" cy="63.74" r="1.7"/><circle cx="119.44" cy="69.29" r="1.7"/><circle cx="63.88" cy="53.63" r="1.7"/><circle cx="135.25" cy="57.79" r="1.7"/><circle cx="184.96" cy="61.17" r="1.7"/><circle cx="62.17" cy="45.55" r="1.7"/><circle cx="65.72" cy="22.5" r="1.7"/><circle cx="117.95" cy="24.94" r="1.7"/><circle cx="182.79" cy="24.59" r="1.7"/><circle cx="120.8" cy="64.93" r="1.7"/><circle cx="196.01" cy="73.75" r="1.7"/><circle cx="57.47" cy="52.96" r="1.7"/><circle cx="129.65" cy="68.5" r="1.7"/><circle cx="58.91" cy="68.18" r="1.7"/><circle cx="133.27" cy="79.47" r="1.7"/><circle cx="195.44" cy="98.87" r="1.7"/><circle cx="63.86" cy="70.89" r="1.7"/><circle cx="124.82" cy="87.27" r="1.7"/><circle cx="194.91" cy="98.21" r="1.7"/><circle cx="59.44" cy="51.95" r="1.7"/><circle cx="125.96" cy="70.87" r="1.7"/><circle cx="58.46" cy="41.21" r="1.7"/><circle cx="133.33" cy="59.38" r="1.7"/><circle cx="182.47" cy="70.5" r="1.7"/><circle cx="58.44" cy="89.42" r="1.7"/><circle cx="117.43" cy="96.91" r="1.7"/><circle cx="192.71" cy="90.95" r="1.7"/><circle cx="58.49" cy="111.16" r="1.7"/><circle cx="121.22" cy="116.06" r="1.7"/><circle cx="192.93" cy="123.91" r="1.7"/><circle cx="61.85" cy="102.94" r="1.7"/><circle cx="116.16" cy="93.24" r="1.7"/><circle cx="195.81" cy="102.83" r="1.7"/><circle cx="63" cy="89.88" r="1.7"/><circle cx="62.07" cy="81.29" r="1.7"/><circle cx="121.15" cy="91.4" r="1.7"/><circle cx="195.44" cy="100.85" r="1.7"/><circle cx="62.47" cy="97.18" r="1.7"/><circle cx="127.66" cy="109.81" r="1.7"/><circle cx="190.69" cy="118.78" r="1.7"/><circle cx="58.09" cy="35.11" r="1.7"/><circle cx="119.72" cy="46.71" r="1.7"/><circle cx="57.85" cy="98" r="1.7"/><circle cx="116.28" cy="90.02" r="1.7"/><circle cx="62.49" cy="134.26" r="1.7"/><circle cx="59.43" cy="59.02" r="1.7"/><circle cx="124.74" cy="67.31" r="1.7"/><circle cx="181.12" cy="83.02" r="1.7"/><circle cx="62.56" cy="119.6" r="1.7"/><circle cx="130.78" cy="125.71" r="1.7"/><circle cx="185.8" cy="125.02" r="1.7"/><circle cx="62.69" cy="127.98" r="1.7"/><circle cx="130.79" cy="130.54" r="1.7"/><circle cx="181.07" cy="127.24" r="1.7"/><circle cx="67.09" cy="168.75" r="1.7"/><circle cx="63.27" cy="168.75" r="1.7"/><circle cx="69.07" cy="168.75" r="1.7"/><circle cx="63.5" cy="168.75" r="1.7"/><circle cx="68.6" cy="168.75" r="1.7"/><circle cx="64.49" cy="168.75" r="1.7"/><circle cx="67.64" cy="168.75" r="1.7"/><circle cx="67.9" cy="168.75" r="1.7"/><circle cx="68.11" cy="168.75" r="1.7"/><circle cx="68.37" cy="168.75" r="1.7"/><circle cx="66.2" cy="168.75" r="1.7"/><circle cx="73.42" cy="168.75" r="1.7"/><circle cx="57.86" cy="168.75" r="1.7"/><circle cx="57.66" cy="168.75" r="1.7"/><circle cx="60.49" cy="168.75" r="1.7"/><circle cx="66.75" cy="168.75" r="1.7"/><circle cx="57.89" cy="168.75" r="1.7"/><circle cx="55.56" cy="168.75" r="1.7"/><circle cx="60.81" cy="168.75" r="1.7"/><circle cx="57.94" cy="168.75" r="1.7"/><circle cx="66.05" cy="168.75" r="1.7"/><circle cx="68.07" cy="168.75" r="1.7"/><circle cx="116.05" cy="168.75" r="1.7"/><circle cx="124.65" cy="168.75" r="1.7"/><circle cx="123.46" cy="168.75" r="1.7"/><circle cx="131.63" cy="168.75" r="1.7"/><circle cx="121.8" cy="168.75" r="1.7"/><circle cx="125.26" cy="168.75" r="1.7"/><circle cx="117.59" cy="168.75" r="1.7"/><circle cx="126.29" cy="168.75" r="1.7"/><circle cx="123.94" cy="168.75" r="1.7"/><circle cx="131.95" cy="168.75" r="1.7"/><circle cx="120.89" cy="168.75" r="1.7"/><circle cx="125.04" cy="168.75" r="1.7"/><circle cx="119.11" cy="168.75" r="1.7"/><circle cx="121.35" cy="168.75" r="1.7"/><circle cx="133.15" cy="168.75" r="1.7"/><circle cx="118.51" cy="168.75" r="1.7"/><circle cx="189.82" cy="168.75" r="1.7"/><circle cx="184.53" cy="168.75" r="1.7"/><circle cx="186.34" cy="168.75" r="1.7"/><circle cx="195.38" cy="168.75" r="1.7"/><circle cx="189.78" cy="168.75" r="1.7"/><circle cx="182.41" cy="168.75" r="1.7"/><circle cx="181.77" cy="168.75" r="1.7"/><circle cx="183.33" cy="168.75" r="1.7"/><circle cx="183.82" cy="168.75" r="1.7"/><circle cx="197.23" cy="168.75" r="1.7"/><circle cx="185.41" cy="168.75" r="1.7"/><circle cx="186.91" cy="168.75" r="1.7"/><circle cx="187.25" cy="168.75" r="1.7"/></g>
<g class="pt"><circle cx="316.75" cy="44.75" r="1.7"/><circle cx="318.75" cy="62" r="1.7"/><circle cx="318.25" cy="69.5" r="1.7"/><circle cx="316.75" cy="92.25" r="1.7"/><circle cx="320" cy="104" r="1.7"/><circle cx="317.5" cy="110.25" r="1.7"/><circle cx="318.75" cy="112.25" r="1.7"/><circle cx="318" cy="122.75" r="1.7"/><circle cx="317.5" cy="125.25" r="1.7"/><circle cx="321.25" cy="132.75" r="1.7"/><circle cx="316.17" cy="168.75" r="1.7"/><circle cx="316.76" cy="168.75" r="1.7"/><circle cx="317.65" cy="168.75" r="1.7"/><circle cx="317.56" cy="168.75" r="1.7"/><circle cx="318.07" cy="168.75" r="1.7"/><circle cx="318.63" cy="168.75" r="1.7"/><circle cx="318.6" cy="168.75" r="1.7"/><circle cx="319.45" cy="168.75" r="1.7"/><circle cx="320.05" cy="168.75" r="1.7"/><circle cx="320.71" cy="168.75" r="1.7"/><circle cx="320.33" cy="168.75" r="1.7"/><circle cx="321.03" cy="168.75" r="1.7"/><circle cx="365.5" cy="84.5" r="1.7"/><circle cx="366.25" cy="94.75" r="1.7"/><circle cx="367" cy="126.5" r="1.7"/><circle cx="363" cy="131.5" r="1.7"/><circle cx="359.43" cy="168.75" r="1.7"/><circle cx="361.14" cy="168.75" r="1.7"/><circle cx="361.84" cy="168.75" r="1.7"/><circle cx="361.9" cy="168.75" r="1.7"/><circle cx="363.88" cy="168.75" r="1.7"/><circle cx="364.7" cy="168.75" r="1.7"/><circle cx="365.17" cy="168.75" r="1.7"/><circle cx="365.97" cy="168.75" r="1.7"/><circle cx="366.26" cy="168.75" r="1.7"/><circle cx="366.93" cy="168.75" r="1.7"/><circle cx="368.39" cy="168.75" r="1.7"/><circle cx="368.67" cy="168.75" r="1.7"/><circle cx="369.68" cy="168.75" r="1.7"/><circle cx="370.58" cy="168.75" r="1.7"/><circle cx="371.17" cy="168.75" r="1.7"/><circle cx="372.53" cy="168.75" r="1.7"/><circle cx="428.1" cy="50.7" r="1.7"/><circle cx="429" cy="53.6" r="1.7"/><circle cx="437.3" cy="92" r="1.7"/><circle cx="427.1" cy="102" r="1.7"/><circle cx="428.6" cy="107.7" r="1.7"/><circle cx="433" cy="107.3" r="1.7"/><circle cx="438.6" cy="115" r="1.7"/><circle cx="426.1" cy="119.4" r="1.7"/><circle cx="426.7" cy="123.7" r="1.7"/><circle cx="430.6" cy="133.6" r="1.7"/><circle cx="423.29" cy="168.75" r="1.7"/><circle cx="425.49" cy="168.75" r="1.7"/><circle cx="426.83" cy="168.75" r="1.7"/><circle cx="428.7" cy="168.75" r="1.7"/><circle cx="430.25" cy="168.75" r="1.7"/><circle cx="432.17" cy="168.75" r="1.7"/><circle cx="433.64" cy="168.75" r="1.7"/><circle cx="435.15" cy="168.75" r="1.7"/><circle cx="437.74" cy="168.75" r="1.7"/><circle cx="497.7" cy="62.8" r="1.7"/><circle cx="490" cy="66.1" r="1.7"/><circle cx="493.9" cy="66.1" r="1.7"/><circle cx="502" cy="70.9" r="1.7"/><circle cx="494.9" cy="80.1" r="1.7"/><circle cx="495.2" cy="121.7" r="1.7"/><circle cx="492.6" cy="131.9" r="1.7"/><circle cx="489.22" cy="168.75" r="1.7"/><circle cx="490.88" cy="168.75" r="1.7"/><circle cx="492.57" cy="168.75" r="1.7"/><circle cx="493.95" cy="168.75" r="1.7"/><circle cx="495.7" cy="168.75" r="1.7"/><circle cx="497.62" cy="168.75" r="1.7"/><circle cx="499.21" cy="168.75" r="1.7"/><circle cx="501.89" cy="168.75" r="1.7"/><circle cx="322.3" cy="30.8" r="1.7"/><circle cx="318.5" cy="34.5" r="1.7"/><circle cx="316.9" cy="39.8" r="1.7"/><circle cx="314.2" cy="42.6" r="1.7"/><circle cx="318.5" cy="45.7" r="1.7"/><circle cx="320.8" cy="58" r="1.7"/><circle cx="315.4" cy="68.5" r="1.7"/><circle cx="319.2" cy="66.9" r="1.7"/><circle cx="321.2" cy="67.2" r="1.7"/><circle cx="321.5" cy="69.5" r="1.7"/><circle cx="317.2" cy="74.2" r="1.7"/><circle cx="321.5" cy="75.4" r="1.7"/><circle cx="317.2" cy="80.3" r="1.7"/><circle cx="321.5" cy="86" r="1.7"/><circle cx="317.2" cy="88.5" r="1.7"/><circle cx="317.2" cy="93.7" r="1.7"/><circle cx="319.2" cy="96.5" r="1.7"/><circle cx="320.3" cy="98" r="1.7"/><circle cx="315.4" cy="98.8" r="1.7"/><circle cx="318.5" cy="104.9" r="1.7"/><circle cx="316.9" cy="114.2" r="1.7"/><circle cx="318.2" cy="115.7" r="1.7"/><circle cx="318.8" cy="119.5" r="1.7"/><circle cx="316.2" cy="121.8" r="1.7"/><circle cx="316.9" cy="123.1" r="1.7"/><circle cx="318.2" cy="124.2" r="1.7"/><circle cx="320.3" cy="125.7" r="1.7"/><circle cx="322.3" cy="129.8" r="1.7"/><circle cx="317.7" cy="134.2" r="1.7"/><circle cx="318.2" cy="136.5" r="1.7"/><circle cx="315" cy="168.75" r="1.7"/><circle cx="315.42" cy="168.75" r="1.7"/><circle cx="315.97" cy="168.75" r="1.7"/><circle cx="317.46" cy="168.75" r="1.7"/><circle cx="317.31" cy="168.75" r="1.7"/><circle cx="318.37" cy="168.75" r="1.7"/><circle cx="318.84" cy="168.75" r="1.7"/><circle cx="319.13" cy="168.75" r="1.7"/><circle cx="320.38" cy="168.75" r="1.7"/><circle cx="320.26" cy="168.75" r="1.7"/><circle cx="366.2" cy="35.7" r="1.7"/><circle cx="370" cy="48.5" r="1.7"/><circle cx="365.4" cy="68.8" r="1.7"/><circle cx="366.2" cy="71.5" r="1.7"/><circle cx="365.4" cy="74.2" r="1.7"/><circle cx="370" cy="88.5" r="1.7"/><circle cx="366.2" cy="90.5" r="1.7"/><circle cx="368.5" cy="91.4" r="1.7"/><circle cx="368.9" cy="96.2" r="1.7"/><circle cx="366.5" cy="98.8" r="1.7"/><circle cx="365.4" cy="104.2" r="1.7"/><circle cx="365.4" cy="105.7" r="1.7"/><circle cx="364.6" cy="112.6" r="1.7"/><circle cx="370.5" cy="111.8" r="1.7"/><circle cx="367.7" cy="116.5" r="1.7"/><circle cx="362.8" cy="123.1" r="1.7"/><circle cx="360.8" cy="125.7" r="1.7"/><circle cx="364.6" cy="128" r="1.7"/><circle cx="366.9" cy="128.3" r="1.7"/><circle cx="372.3" cy="126.5" r="1.7"/><circle cx="366.9" cy="131.1" r="1.7"/><circle cx="366.2" cy="134.2" r="1.7"/><circle cx="361.47" cy="168.75" r="1.7"/><circle cx="361.82" cy="168.75" r="1.7"/><circle cx="363.17" cy="168.75" r="1.7"/><circle cx="363.91" cy="168.75" r="1.7"/><circle cx="364.96" cy="168.75" r="1.7"/><circle cx="366.79" cy="168.75" r="1.7"/><circle cx="367.57" cy="168.75" r="1.7"/><circle cx="367.96" cy="168.75" r="1.7"/><circle cx="369.64" cy="168.75" r="1.7"/><circle cx="369.82" cy="168.75" r="1.7"/><circle cx="371.02" cy="168.75" r="1.7"/><circle cx="372.56" cy="168.75" r="1.7"/><circle cx="373.29" cy="168.75" r="1.7"/><circle cx="373.63" cy="168.75" r="1.7"/><circle cx="429.2" cy="42.8" r="1.7"/><circle cx="433.2" cy="43.9" r="1.7"/><circle cx="433.6" cy="49" r="1.7"/><circle cx="434.7" cy="56.1" r="1.7"/><circle cx="425.9" cy="64.9" r="1.7"/><circle cx="435" cy="74" r="1.7"/><circle cx="429.9" cy="76.6" r="1.7"/><circle cx="432.7" cy="78.8" r="1.7"/><circle cx="431" cy="88.4" r="1.7"/><circle cx="432.1" cy="90.6" r="1.7"/><circle cx="431" cy="92.1" r="1.7"/><circle cx="437.2" cy="98.8" r="1.7"/><circle cx="431" cy="107.9" r="1.7"/><circle cx="428.8" cy="116.3" r="1.7"/><circle cx="426.1" cy="119.6" r="1.7"/><circle cx="420.4" cy="119.6" r="1.7"/><circle cx="429.9" cy="123" r="1.7"/><circle cx="429.2" cy="123.4" r="1.7"/><circle cx="428.3" cy="128.9" r="1.7"/><circle cx="427.7" cy="135.6" r="1.7"/><circle cx="423.19" cy="168.75" r="1.7"/><circle cx="423.47" cy="168.75" r="1.7"/><circle cx="424.73" cy="168.75" r="1.7"/><circle cx="426.56" cy="168.75" r="1.7"/><circle cx="427.23" cy="168.75" r="1.7"/><circle cx="428.4" cy="168.75" r="1.7"/><circle cx="429.34" cy="168.75" r="1.7"/><circle cx="430.57" cy="168.75" r="1.7"/><circle cx="432.37" cy="168.75" r="1.7"/><circle cx="433.17" cy="168.75" r="1.7"/><circle cx="434.81" cy="168.75" r="1.7"/><circle cx="435.74" cy="168.75" r="1.7"/><circle cx="501.1" cy="29.5" r="1.7"/><circle cx="495.8" cy="42.3" r="1.7"/><circle cx="492.9" cy="63.8" r="1.7"/><circle cx="495.6" cy="64.9" r="1.7"/><circle cx="500.7" cy="74" r="1.7"/><circle cx="494.7" cy="79.5" r="1.7"/><circle cx="490.7" cy="91.3" r="1.7"/><circle cx="491.8" cy="95.3" r="1.7"/><circle cx="494" cy="107.5" r="1.7"/><circle cx="493.4" cy="110.8" r="1.7"/><circle cx="494" cy="120.1" r="1.7"/><circle cx="484.1" cy="122.3" r="1.7"/><circle cx="488.94" cy="168.75" r="1.7"/><circle cx="490.55" cy="168.75" r="1.7"/><circle cx="490.98" cy="168.75" r="1.7"/><circle cx="492.09" cy="168.75" r="1.7"/><circle cx="493.44" cy="168.75" r="1.7"/><circle cx="493.62" cy="168.75" r="1.7"/><circle cx="492.3" cy="28.8" r="1.7"/><circle cx="492.6" cy="41.3" r="1.7"/><circle cx="365" cy="47" r="1.7"/></g>
<g class="pt"><circle cx="65.2" cy="264.8" r="1.7"/><circle cx="62.3" cy="278.3" r="1.7"/><circle cx="60.4" cy="281.2" r="1.7"/><circle cx="63.3" cy="282.1" r="1.7"/><circle cx="65.8" cy="281.5" r="1.7"/><circle cx="59.4" cy="284" r="1.7"/><circle cx="62.3" cy="284" r="1.7"/><circle cx="65.2" cy="285" r="1.7"/><circle cx="58.5" cy="288.5" r="1.7"/><circle cx="61.3" cy="287.9" r="1.7"/><circle cx="63.3" cy="288.5" r="1.7"/><circle cx="66.2" cy="291.7" r="1.7"/><circle cx="60" cy="294.6" r="1.7"/><circle cx="63.3" cy="294.2" r="1.7"/><circle cx="66.2" cy="295.2" r="1.7"/><circle cx="58.1" cy="296.5" r="1.7"/><circle cx="64.2" cy="301.3" r="1.7"/><circle cx="63.3" cy="303.3" r="1.7"/><circle cx="58.5" cy="308.1" r="1.7"/><circle cx="65.2" cy="308.1" r="1.7"/><circle cx="66.2" cy="312.3" r="1.7"/><circle cx="61.9" cy="320.6" r="1.7"/><circle cx="62.3" cy="330.6" r="1.7"/><circle cx="63.3" cy="331.5" r="1.7"/><circle cx="62.7" cy="333.1" r="1.7"/><circle cx="60.4" cy="337.7" r="1.7"/><circle cx="61.9" cy="338.8" r="1.7"/><circle cx="64.6" cy="348.5" r="1.7"/><circle cx="65.2" cy="351.7" r="1.7"/><circle cx="59.4" cy="356.5" r="1.7"/><circle cx="62.7" cy="357.5" r="1.7"/><circle cx="65.8" cy="363.8" r="1.7"/><circle cx="56.65" cy="394.75" r="1.7"/><circle cx="58.5" cy="394.75" r="1.7"/><circle cx="61.21" cy="394.75" r="1.7"/><circle cx="63.12" cy="394.75" r="1.7"/><circle cx="65.41" cy="394.75" r="1.7"/><circle cx="67.93" cy="394.75" r="1.7"/><circle cx="127.9" cy="278.1" r="1.7"/><circle cx="122.9" cy="284.4" r="1.7"/><circle cx="117.7" cy="292.1" r="1.7"/><circle cx="123.5" cy="292.7" r="1.7"/><circle cx="126.9" cy="290.8" r="1.7"/><circle cx="126.9" cy="295" r="1.7"/><circle cx="124.4" cy="298.8" r="1.7"/><circle cx="127.7" cy="299.8" r="1.7"/><circle cx="122.5" cy="305.6" r="1.7"/><circle cx="123.5" cy="307.5" r="1.7"/><circle cx="121.9" cy="309" r="1.7"/><circle cx="124.2" cy="309.6" r="1.7"/><circle cx="131.2" cy="311" r="1.7"/><circle cx="134" cy="311.3" r="1.7"/><circle cx="136.5" cy="312.7" r="1.7"/><circle cx="125.8" cy="316.2" r="1.7"/><circle cx="126.3" cy="320.4" r="1.7"/><circle cx="122.5" cy="327.7" r="1.7"/><circle cx="123.8" cy="331.2" r="1.7"/><circle cx="124.2" cy="330" r="1.7"/><circle cx="115.8" cy="335.4" r="1.7"/><circle cx="123.8" cy="334.4" r="1.7"/><circle cx="124.4" cy="336.9" r="1.7"/><circle cx="123.1" cy="341.2" r="1.7"/><circle cx="123.8" cy="349.2" r="1.7"/><circle cx="121.2" cy="360.8" r="1.7"/><circle cx="119.86" cy="394.75" r="1.7"/><circle cx="121.86" cy="394.75" r="1.7"/><circle cx="124.51" cy="394.75" r="1.7"/><circle cx="127.26" cy="394.75" r="1.7"/><circle cx="128.99" cy="394.75" r="1.7"/><circle cx="181.5" cy="291.7" r="1.7"/><circle cx="185.6" cy="290.2" r="1.7"/><circle cx="189.2" cy="295.4" r="1.7"/><circle cx="190.8" cy="296.5" r="1.7"/><circle cx="193.1" cy="298.8" r="1.7"/><circle cx="189.8" cy="301.2" r="1.7"/><circle cx="185.6" cy="307.5" r="1.7"/><circle cx="186.9" cy="315.8" r="1.7"/><circle cx="189.8" cy="319" r="1.7"/><circle cx="187.9" cy="320" r="1.7"/><circle cx="186" cy="321.5" r="1.7"/><circle cx="181.5" cy="326.7" r="1.7"/><circle cx="189.2" cy="327.7" r="1.7"/><circle cx="196.2" cy="338.3" r="1.7"/><circle cx="184.6" cy="340.2" r="1.7"/><circle cx="189.2" cy="348.5" r="1.7"/><circle cx="196.5" cy="348.3" r="1.7"/><circle cx="186.9" cy="351.7" r="1.7"/><circle cx="187.9" cy="354.2" r="1.7"/><circle cx="183.1" cy="358.1" r="1.7"/><circle cx="186.9" cy="359.4" r="1.7"/><circle cx="182.8" cy="394.75" r="1.7"/><circle cx="186.09" cy="394.75" r="1.7"/><circle cx="188.19" cy="394.75" r="1.7"/><circle cx="190.33" cy="394.75" r="1.7"/><circle cx="193.27" cy="394.75" r="1.7"/></g>
<g class="pt"><circle cx="316.75" cy="270.75" r="1.7"/><circle cx="318.75" cy="288" r="1.7"/><circle cx="318.25" cy="295.5" r="1.7"/><circle cx="316.75" cy="318.25" r="1.7"/><circle cx="320" cy="330" r="1.7"/><circle cx="317.5" cy="336.25" r="1.7"/><circle cx="318.75" cy="338.25" r="1.7"/><circle cx="318" cy="348.75" r="1.7"/><circle cx="317.5" cy="351.25" r="1.7"/><circle cx="321.25" cy="358.75" r="1.7"/><circle cx="316.17" cy="394.75" r="1.7"/><circle cx="316.76" cy="394.75" r="1.7"/><circle cx="317.65" cy="394.75" r="1.7"/><circle cx="317.56" cy="394.75" r="1.7"/><circle cx="318.07" cy="394.75" r="1.7"/><circle cx="318.63" cy="394.75" r="1.7"/><circle cx="318.6" cy="394.75" r="1.7"/><circle cx="319.45" cy="394.75" r="1.7"/><circle cx="320.05" cy="394.75" r="1.7"/><circle cx="320.71" cy="394.75" r="1.7"/><circle cx="320.33" cy="394.75" r="1.7"/><circle cx="321.03" cy="394.75" r="1.7"/><circle cx="365.5" cy="310.5" r="1.7"/><circle cx="366.25" cy="320.75" r="1.7"/><circle cx="367" cy="352.5" r="1.7"/><circle cx="363" cy="357.5" r="1.7"/><circle cx="359.43" cy="394.75" r="1.7"/><circle cx="361.14" cy="394.75" r="1.7"/><circle cx="361.84" cy="394.75" r="1.7"/><circle cx="361.9" cy="394.75" r="1.7"/><circle cx="363.88" cy="394.75" r="1.7"/><circle cx="364.7" cy="394.75" r="1.7"/><circle cx="365.17" cy="394.75" r="1.7"/><circle cx="365.97" cy="394.75" r="1.7"/><circle cx="366.26" cy="394.75" r="1.7"/><circle cx="366.93" cy="394.75" r="1.7"/><circle cx="368.39" cy="394.75" r="1.7"/><circle cx="368.67" cy="394.75" r="1.7"/><circle cx="369.68" cy="394.75" r="1.7"/><circle cx="370.58" cy="394.75" r="1.7"/><circle cx="371.17" cy="394.75" r="1.7"/><circle cx="372.53" cy="394.75" r="1.7"/><circle cx="428.1" cy="276.7" r="1.7"/><circle cx="429" cy="279.6" r="1.7"/><circle cx="437.3" cy="318" r="1.7"/><circle cx="427.1" cy="328" r="1.7"/><circle cx="428.6" cy="333.7" r="1.7"/><circle cx="433" cy="333.3" r="1.7"/><circle cx="438.6" cy="341" r="1.7"/><circle cx="426.1" cy="345.4" r="1.7"/><circle cx="426.7" cy="349.7" r="1.7"/><circle cx="430.6" cy="359.6" r="1.7"/><circle cx="423.29" cy="394.75" r="1.7"/><circle cx="425.49" cy="394.75" r="1.7"/><circle cx="426.83" cy="394.75" r="1.7"/><circle cx="428.7" cy="394.75" r="1.7"/><circle cx="430.25" cy="394.75" r="1.7"/><circle cx="432.17" cy="394.75" r="1.7"/><circle cx="433.64" cy="394.75" r="1.7"/><circle cx="435.15" cy="394.75" r="1.7"/><circle cx="437.74" cy="394.75" r="1.7"/><circle cx="497.7" cy="288.8" r="1.7"/><circle cx="490" cy="292.1" r="1.7"/><circle cx="493.9" cy="292.1" r="1.7"/><circle cx="502" cy="296.9" r="1.7"/><circle cx="494.9" cy="306.1" r="1.7"/><circle cx="495.2" cy="347.7" r="1.7"/><circle cx="492.6" cy="357.9" r="1.7"/><circle cx="489.22" cy="394.75" r="1.7"/><circle cx="490.88" cy="394.75" r="1.7"/><circle cx="492.57" cy="394.75" r="1.7"/><circle cx="493.95" cy="394.75" r="1.7"/><circle cx="495.7" cy="394.75" r="1.7"/><circle cx="497.62" cy="394.75" r="1.7"/><circle cx="499.21" cy="394.75" r="1.7"/><circle cx="501.89" cy="394.75" r="1.7"/></g>
<g class="pt"><circle cx="187.82" cy="528.9" r="1.7"/><circle cx="57.83" cy="512.32" r="1.7"/><circle cx="58.97" cy="503.67" r="1.7"/><circle cx="133.78" cy="507.06" r="1.7"/><circle cx="193.34" cy="512.74" r="1.7"/><circle cx="65.07" cy="505.55" r="1.7"/><circle cx="126.75" cy="520.05" r="1.7"/><circle cx="58.39" cy="555.67" r="1.7"/><circle cx="124.09" cy="540.63" r="1.7"/><circle cx="184.32" cy="565.25" r="1.7"/><circle cx="64.13" cy="501.79" r="1.7"/><circle cx="59.74" cy="544.2" r="1.7"/><circle cx="121.85" cy="552.09" r="1.7"/><circle cx="189.82" cy="550.98" r="1.7"/><circle cx="59.94" cy="502.17" r="1.7"/><circle cx="118.85" cy="508.24" r="1.7"/><circle cx="182.55" cy="513.34" r="1.7"/><circle cx="62.29" cy="490.54" r="1.7"/><circle cx="135.5" cy="498.5" r="1.7"/><circle cx="187.79" cy="499.71" r="1.7"/><circle cx="57.76" cy="507.06" r="1.7"/><circle cx="132.43" cy="519.25" r="1.7"/><circle cx="193.75" cy="524.11" r="1.7"/><circle cx="124.16" cy="500.31" r="1.7"/><circle cx="190.02" cy="516.93" r="1.7"/><circle cx="59.22" cy="514.44" r="1.7"/><circle cx="194.21" cy="521.72" r="1.7"/><circle cx="62.96" cy="510.44" r="1.7"/><circle cx="124.59" cy="516.49" r="1.7"/><circle cx="194.59" cy="529.5" r="1.7"/><circle cx="58.09" cy="545.16" r="1.7"/><circle cx="131.42" cy="555.81" r="1.7"/><circle cx="184.03" cy="559.34" r="1.7"/><circle cx="61.29" cy="486.43" r="1.7"/><circle cx="58.08" cy="548.98" r="1.7"/><circle cx="129.07" cy="556.74" r="1.7"/><circle cx="182.02" cy="557.37" r="1.7"/><circle cx="62.63" cy="476.6" r="1.7"/><circle cx="60.37" cy="479.3" r="1.7"/><circle cx="59.47" cy="513.93" r="1.7"/><circle cx="127.55" cy="514.53" r="1.7"/><circle cx="194.03" cy="517.53" r="1.7"/><circle cx="61.51" cy="514.95" r="1.7"/><circle cx="117.77" cy="528.78" r="1.7"/><circle cx="192.88" cy="540.57" r="1.7"/><circle cx="60.79" cy="484.93" r="1.7"/><circle cx="119.1" cy="490.07" r="1.7"/><circle cx="185.57" cy="500.3" r="1.7"/><circle cx="60.28" cy="477.68" r="1.7"/><circle cx="65.05" cy="518.01" r="1.7"/><circle cx="119.06" cy="531.9" r="1.7"/><circle cx="189.13" cy="532.24" r="1.7"/><circle cx="57.85" cy="497.28" r="1.7"/><circle cx="60.23" cy="504.42" r="1.7"/><circle cx="64.44" cy="521.07" r="1.7"/><circle cx="123.66" cy="527.54" r="1.7"/><circle cx="190.76" cy="545.43" r="1.7"/><circle cx="61.35" cy="489.05" r="1.7"/><circle cx="130.29" cy="505.49" r="1.7"/><circle cx="184.63" cy="516.33" r="1.7"/><circle cx="61.22" cy="496.53" r="1.7"/><circle cx="126.84" cy="502.57" r="1.7"/><circle cx="194.96" cy="505.62" r="1.7"/><circle cx="62.86" cy="538.39" r="1.7"/><circle cx="128.25" cy="530.65" r="1.7"/><circle cx="189.36" cy="536.41" r="1.7"/><circle cx="63.86" cy="480.93" r="1.7"/><circle cx="124.75" cy="495.33" r="1.7"/><circle cx="189.91" cy="497.38" r="1.7"/><circle cx="61.36" cy="527.69" r="1.7"/><circle cx="129.97" cy="536.27" r="1.7"/><circle cx="180.83" cy="542.65" r="1.7"/><circle cx="63.39" cy="491.66" r="1.7"/><circle cx="128.46" cy="505.88" r="1.7"/><circle cx="65.84" cy="498.04" r="1.7"/><circle cx="131.95" cy="500.76" r="1.7"/><circle cx="182.94" cy="506.21" r="1.7"/><circle cx="62.72" cy="553.76" r="1.7"/><circle cx="124.8" cy="562.32" r="1.7"/><circle cx="193.72" cy="556.38" r="1.7"/><circle cx="57.32" cy="494.65" r="1.7"/><circle cx="60.95" cy="477.14" r="1.7"/><circle cx="125.47" cy="485.84" r="1.7"/><circle cx="187.1" cy="490.62" r="1.7"/><circle cx="66.24" cy="532.79" r="1.7"/><circle cx="134.2" cy="530.03" r="1.7"/><circle cx="58.6" cy="561.58" r="1.7"/><circle cx="132.74" cy="553.02" r="1.7"/><circle cx="58.51" cy="517.5" r="1.7"/><circle cx="121.22" cy="534.4" r="1.7"/><circle cx="190.38" cy="539.88" r="1.7"/><circle cx="58.28" cy="537.38" r="1.7"/><circle cx="61.92" cy="496.16" r="1.7"/><circle cx="59.59" cy="501.42" r="1.7"/><circle cx="128.65" cy="506.27" r="1.7"/><circle cx="184.85" cy="506.8" r="1.7"/><circle cx="63.54" cy="539.43" r="1.7"/><circle cx="122.7" cy="554.88" r="1.7"/><circle cx="186.4" cy="569.9" r="1.7"/><circle cx="65.27" cy="535.85" r="1.7"/><circle cx="134.09" cy="549.3" r="1.7"/><circle cx="60.11" cy="557.58" r="1.7"/><circle cx="131.78" cy="563.25" r="1.7"/><circle cx="188.12" cy="564.26" r="1.7"/><circle cx="62.57" cy="525.15" r="1.7"/><circle cx="119.27" cy="539.38" r="1.7"/><circle cx="60.94" cy="531.26" r="1.7"/><circle cx="135.84" cy="518.46" r="1.7"/><circle cx="184.13" cy="525.31" r="1.7"/><circle cx="61.45" cy="549.94" r="1.7"/><circle cx="130.2" cy="558.6" r="1.7"/><circle cx="189.45" cy="560.32" r="1.7"/><circle cx="60.74" cy="494.28" r="1.7"/><circle cx="61.3" cy="485.68" r="1.7"/><circle cx="124.26" cy="488.38" r="1.7"/><circle cx="189.52" cy="494.49" r="1.7"/><circle cx="64.49" cy="485.31" r="1.7"/><circle cx="116.08" cy="498.04" r="1.7"/><circle cx="182.25" cy="509.17" r="1.7"/><circle cx="59.85" cy="511.94" r="1.7"/><circle cx="118.72" cy="516.89" r="1.7"/><circle cx="185.19" cy="518.73" r="1.7"/><circle cx="60.06" cy="537.89" r="1.7"/><circle cx="60.12" cy="533.3" r="1.7"/><circle cx="128.68" cy="523.79" r="1.7"/><circle cx="59.69" cy="499.16" r="1.7"/><circle cx="129.64" cy="506.67" r="1.7"/><circle cx="186.79" cy="510.35" r="1.7"/><circle cx="61.4" cy="480.39" r="1.7"/><circle cx="123.74" cy="492.61" r="1.7"/><circle cx="195.77" cy="502.07" r="1.7"/><circle cx="65.33" cy="484.19" r="1.7"/><circle cx="124.58" cy="494.87" r="1.7"/><circle cx="184.05" cy="503.25" r="1.7"/><circle cx="59.72" cy="508.56" r="1.7"/><circle cx="124.4" cy="516.1" r="1.7"/><circle cx="184.45" cy="524.71" r="1.7"/><circle cx="59.01" cy="490.17" r="1.7"/><circle cx="133.21" cy="504.31" r="1.7"/><circle cx="193.14" cy="515.14" r="1.7"/><circle cx="127.77" cy="517.67" r="1.7"/><circle cx="190.37" cy="518.13" r="1.7"/><circle cx="62.74" cy="521.58" r="1.7"/><circle cx="122.46" cy="526.91" r="1.7"/><circle cx="184.89" cy="531.55" r="1.7"/><circle cx="61.1" cy="510.81" r="1.7"/><circle cx="123.86" cy="517.28" r="1.7"/><circle cx="187.73" cy="520.52" r="1.7"/><circle cx="58.78" cy="575.83" r="1.7"/><circle cx="58.4" cy="484.56" r="1.7"/><circle cx="125.95" cy="496.68" r="1.7"/><circle cx="58.17" cy="547.07" r="1.7"/><circle cx="182.18" cy="554.41" r="1.7"/><circle cx="64.66" cy="482.55" r="1.7"/><circle cx="118.22" cy="491.77" r="1.7"/><circle cx="186.44" cy="498.35" r="1.7"/><circle cx="62.26" cy="509.31" r="1.7"/><circle cx="132.74" cy="511.38" r="1.7"/><circle cx="194.84" cy="530.16" r="1.7"/><circle cx="57.47" cy="495.03" r="1.7"/><circle cx="63.95" cy="590.08" r="1.7"/><circle cx="133.21" cy="586.89" r="1.7"/><circle cx="187.94" cy="576.5" r="1.7"/><circle cx="65.79" cy="483.06" r="1.7"/><circle cx="128.52" cy="493.97" r="1.7"/><circle cx="62.51" cy="498.79" r="1.7"/><circle cx="118.66" cy="514.92" r="1.7"/><circle cx="191.1" cy="519.33" r="1.7"/><circle cx="57.91" cy="474.5" r="1.7"/><circle cx="127.17" cy="487.53" r="1.7"/><circle cx="190.64" cy="496.42" r="1.7"/><circle cx="61.42" cy="554.72" r="1.7"/><circle cx="128.15" cy="560.46" r="1.7"/><circle cx="182.27" cy="547.51" r="1.7"/><circle cx="60" cy="511.57" r="1.7"/><circle cx="58.49" cy="513.44" r="1.7"/><circle cx="121.43" cy="503.48" r="1.7"/><circle cx="190.01" cy="513.94" r="1.7"/><circle cx="57.35" cy="525.65" r="1.7"/><circle cx="58.77" cy="529.73" r="1.7"/><circle cx="122.59" cy="521.92" r="1.7"/><circle cx="64.82" cy="570.13" r="1.7"/><circle cx="122.71" cy="583.51" r="1.7"/><circle cx="193.33" cy="572.1" r="1.7"/><circle cx="61.8" cy="516.99" r="1.7"/><circle cx="133.34" cy="545" r="1.7"/><circle cx="182.75" cy="552.44" r="1.7"/><circle cx="58.71" cy="493.9" r="1.7"/><circle cx="130.64" cy="507.45" r="1.7"/><circle cx="196.34" cy="511.55" r="1.7"/><circle cx="59.5" cy="478.22" r="1.7"/><circle cx="122.63" cy="479.38" r="1.7"/><circle cx="186.92" cy="491.59" r="1.7"/><circle cx="64.47" cy="533.81" r="1.7"/><circle cx="66.35" cy="505.93" r="1.7"/><circle cx="125.52" cy="514.14" r="1.7"/><circle cx="192.28" cy="522.32" r="1.7"/><circle cx="59.25" cy="528.2" r="1.7"/><circle cx="132.2" cy="520.68" r="1.7"/><circle cx="190.17" cy="533.63" r="1.7"/><circle cx="61.29" cy="550.89" r="1.7"/><circle cx="125.25" cy="573.38" r="1.7"/><circle cx="194.2" cy="567.7" r="1.7"/><circle cx="62.26" cy="501.04" r="1.7"/><circle cx="116.62" cy="508.63" r="1.7"/><circle cx="190.22" cy="526.51" r="1.7"/><circle cx="63.73" cy="488.3" r="1.7"/><circle cx="122.91" cy="489.23" r="1.7"/><circle cx="189.74" cy="500.89" r="1.7"/><circle cx="66.12" cy="526.16" r="1.7"/><circle cx="124.3" cy="518.85" r="1.7"/><circle cx="193.93" cy="546.12" r="1.7"/><circle cx="64.57" cy="581.53" r="1.7"/><circle cx="126.64" cy="576.76" r="1.7"/><circle cx="65.08" cy="474.5" r="1.7"/><circle cx="191.34" cy="481.94" r="1.7"/><circle cx="64.95" cy="572.98" r="1.7"/><circle cx="123.93" cy="550.23" r="1.7"/><circle cx="188.33" cy="544.04" r="1.7"/><circle cx="62.84" cy="486.8" r="1.7"/><circle cx="132.03" cy="499.86" r="1.7"/><circle cx="195.82" cy="512.14" r="1.7"/><circle cx="63.73" cy="520.05" r="1.7"/><circle cx="122.39" cy="541.26" r="1.7"/><circle cx="65.95" cy="495.41" r="1.7"/><circle cx="121.84" cy="505.09" r="1.7"/><circle cx="57.42" cy="500.29" r="1.7"/><circle cx="132.78" cy="515.71" r="1.7"/><circle cx="195.01" cy="523.52" r="1.7"/><circle cx="60.99" cy="519.54" r="1.7"/><circle cx="131.66" cy="540.01" r="1.7"/><circle cx="185.12" cy="551.68" r="1.7"/><circle cx="62.72" cy="541.34" r="1.7"/><circle cx="116.36" cy="547.44" r="1.7"/><circle cx="58.38" cy="506.3" r="1.7"/><circle cx="59.61" cy="527.18" r="1.7"/><circle cx="133.54" cy="535.02" r="1.7"/><circle cx="183.88" cy="532.94" r="1.7"/><circle cx="59.52" cy="509.69" r="1.7"/><circle cx="135.9" cy="519.64" r="1.7"/><circle cx="65.68" cy="474.5" r="1.7"/><circle cx="134.61" cy="481.32" r="1.7"/><circle cx="190.38" cy="493.52" r="1.7"/><circle cx="61.37" cy="492.78" r="1.7"/><circle cx="116.27" cy="503.91" r="1.7"/><circle cx="188.93" cy="510.95" r="1.7"/><circle cx="65.43" cy="567.28" r="1.7"/><circle cx="130.4" cy="566.63" r="1.7"/><circle cx="183.54" cy="562.29" r="1.7"/><circle cx="66.06" cy="534.83" r="1.7"/><circle cx="116.49" cy="536.89" r="1.7"/><circle cx="180.54" cy="538.49" r="1.7"/><circle cx="60.81" cy="528.71" r="1.7"/><circle cx="118.52" cy="532.52" r="1.7"/><circle cx="194.2" cy="539.18" r="1.7"/><circle cx="61.55" cy="542.29" r="1.7"/><circle cx="129.15" cy="559.53" r="1.7"/><circle cx="57.86" cy="474.5" r="1.7"/><circle cx="127.3" cy="482.45" r="1.7"/><circle cx="194.41" cy="486.89" r="1.7"/><circle cx="61.49" cy="558.54" r="1.7"/><circle cx="60.34" cy="519.03" r="1.7"/><circle cx="118.78" cy="544.37" r="1.7"/><circle cx="183.28" cy="566.23" r="1.7"/><circle cx="59.17" cy="522.6" r="1.7"/><circle cx="132.87" cy="526.29" r="1.7"/><circle cx="192.06" cy="537.1" r="1.7"/><circle cx="59.08" cy="483.44" r="1.7"/><circle cx="64.37" cy="532.28" r="1.7"/><circle cx="134.89" cy="541.88" r="1.7"/><circle cx="59.83" cy="492.41" r="1.7"/><circle cx="59.35" cy="512.69" r="1.7"/><circle cx="117.94" cy="513.74" r="1.7"/><circle cx="180.58" cy="537.8" r="1.7"/><circle cx="59.87" cy="535.34" r="1.7"/><circle cx="118.94" cy="537.51" r="1.7"/><circle cx="188.08" cy="548.9" r="1.7"/><circle cx="63.34" cy="486.05" r="1.7"/><circle cx="125.78" cy="493.06" r="1.7"/><circle cx="181.98" cy="504.44" r="1.7"/><circle cx="58.61" cy="490.91" r="1.7"/><circle cx="130.6" cy="498.95" r="1.7"/><circle cx="186.28" cy="502.66" r="1.7"/><circle cx="59.95" cy="508.93" r="1.7"/><circle cx="133" cy="523.17" r="1.7"/><circle cx="57.65" cy="479.84" r="1.7"/><circle cx="117.5" cy="484.99" r="1.7"/><circle cx="185.73" cy="492.55" r="1.7"/><circle cx="64.12" cy="487.55" r="1.7"/><circle cx="131.96" cy="502.12" r="1.7"/><circle cx="186.05" cy="508.57" r="1.7"/><circle cx="65.48" cy="529.22" r="1.7"/><circle cx="130.75" cy="538.76" r="1.7"/><circle cx="183.17" cy="541.27" r="1.7"/><circle cx="61.72" cy="536.87" r="1.7"/><circle cx="132.55" cy="543.75" r="1.7"/><circle cx="181.59" cy="544.74" r="1.7"/><circle cx="60.29" cy="482.01" r="1.7"/><circle cx="118.82" cy="490.92" r="1.7"/><circle cx="186.95" cy="499.12" r="1.7"/><circle cx="59.59" cy="503.3" r="1.7"/><circle cx="125.1" cy="507.85" r="1.7"/><circle cx="191.36" cy="527.11" r="1.7"/><circle cx="58.02" cy="584.38" r="1.7"/><circle cx="64.7" cy="578.68" r="1.7"/><circle cx="134.46" cy="580.13" r="1.7"/><circle cx="181.42" cy="578.7" r="1.7"/><circle cx="59.01" cy="499.54" r="1.7"/><circle cx="128.27" cy="504.7" r="1.7"/><circle cx="191.42" cy="507.98" r="1.7"/><circle cx="57.49" cy="497.66" r="1.7"/><circle cx="61.98" cy="531.77" r="1.7"/><circle cx="123.6" cy="535.64" r="1.7"/><circle cx="182.13" cy="549.6" r="1.7"/><circle cx="66.11" cy="540.38" r="1.7"/><circle cx="125.94" cy="545.62" r="1.7"/><circle cx="187.54" cy="558.35" r="1.7"/><circle cx="62.88" cy="524.64" r="1.7"/><circle cx="118.82" cy="542.5" r="1.7"/><circle cx="58.74" cy="474.5" r="1.7"/><circle cx="65.55" cy="530.24" r="1.7"/><circle cx="120.44" cy="529.41" r="1.7"/><circle cx="57.82" cy="504.05" r="1.7"/><circle cx="131.24" cy="509.81" r="1.7"/><circle cx="64.71" cy="556.63" r="1.7"/><circle cx="120.28" cy="570" r="1.7"/><circle cx="189.29" cy="574.3" r="1.7"/><circle cx="60.81" cy="552.8" r="1.7"/><circle cx="130.69" cy="546.51" r="1.7"/><circle cx="188.2" cy="548.21" r="1.7"/><circle cx="66.03" cy="543.25" r="1.7"/><circle cx="132.36" cy="557.67" r="1.7"/><circle cx="181.44" cy="563.28" r="1.7"/><circle cx="60.86" cy="524.13" r="1.7"/><circle cx="126.54" cy="528.16" r="1.7"/><circle cx="195.01" cy="541.96" r="1.7"/><circle cx="60.67" cy="502.55" r="1.7"/><circle cx="121.01" cy="509.03" r="1.7"/><circle cx="181.1" cy="509.76" r="1.7"/><circle cx="58.36" cy="551.85" r="1.7"/><circle cx="131.8" cy="551.16" r="1.7"/><circle cx="62.92" cy="520.56" r="1.7"/><circle cx="63.71" cy="493.16" r="1.7"/><circle cx="126.11" cy="499.4" r="1.7"/><circle cx="195.93" cy="501.48" r="1.7"/><circle cx="65.66" cy="502.92" r="1.7"/><circle cx="64.26" cy="523.11" r="1.7"/><circle cx="196.07" cy="528.3" r="1.7"/><circle cx="64.36" cy="534.32" r="1.7"/><circle cx="121.9" cy="548.37" r="1.7"/><circle cx="195.7" cy="555.4" r="1.7"/><circle cx="64.9" cy="515.46" r="1.7"/><circle cx="130.88" cy="525.66" r="1.7"/><circle cx="196.18" cy="535.02" r="1.7"/><circle cx="64.83" cy="495.78" r="1.7"/><circle cx="121.92" cy="510.6" r="1.7"/><circle cx="188.11" cy="507.39" r="1.7"/><circle cx="64.36" cy="523.62" r="1.7"/><circle cx="133.14" cy="521.3" r="1.7"/><circle cx="192.6" cy="530.86" r="1.7"/><circle cx="63.77" cy="518.52" r="1.7"/><circle cx="134.51" cy="533.77" r="1.7"/><circle cx="186.08" cy="543.35" r="1.7"/><circle cx="59.5" cy="478.76" r="1.7"/><circle cx="118.9" cy="486.68" r="1.7"/><circle cx="63.68" cy="476.06" r="1.7"/><circle cx="130.62" cy="483.3" r="1.7"/><circle cx="186" cy="489.66" r="1.7"/><circle cx="61.26" cy="513.07" r="1.7"/><circle cx="119.47" cy="525.04" r="1.7"/><circle cx="183.03" cy="527.7" r="1.7"/><circle cx="65.01" cy="489.79" r="1.7"/><circle cx="132.24" cy="497.59" r="1.7"/><circle cx="66.03" cy="488.67" r="1.7"/><circle cx="134.95" cy="501.21" r="1.7"/><circle cx="184.44" cy="505.03" r="1.7"/><circle cx="64.38" cy="496.91" r="1.7"/><circle cx="64.9" cy="564.43" r="1.7"/><circle cx="125" cy="553.95" r="1.7"/><circle cx="182.63" cy="550.29" r="1.7"/><circle cx="65.68" cy="516.48" r="1.7"/><circle cx="132.98" cy="515.31" r="1.7"/><circle cx="64.98" cy="526.67" r="1.7"/><circle cx="124.7" cy="531.28" r="1.7"/><circle cx="185.65" cy="546.82" r="1.7"/><circle cx="59.88" cy="507.81" r="1.7"/><circle cx="132.3" cy="512.56" r="1.7"/><circle cx="61.55" cy="515.97" r="1.7"/><circle cx="124.35" cy="522.55" r="1.7"/><circle cx="187.64" cy="522.92" r="1.7"/><circle cx="65.09" cy="491.29" r="1.7"/><circle cx="128.07" cy="503.03" r="1.7"/><circle cx="59.82" cy="548.03" r="1.7"/><circle cx="62.08" cy="475.51" r="1.7"/><circle cx="120.43" cy="477.43" r="1.7"/><circle cx="59.26" cy="546.12" r="1.7"/><circle cx="116.17" cy="543.13" r="1.7"/><circle cx="182.87" cy="553.43" r="1.7"/><circle cx="59.08" cy="504.8" r="1.7"/><circle cx="122.06" cy="512.17" r="1.7"/><circle cx="61.38" cy="505.18" r="1.7"/><circle cx="130.83" cy="510.99" r="1.7"/><circle cx="181.6" cy="521.12" r="1.7"/><circle cx="58.11" cy="500.67" r="1.7"/><circle cx="62.95" cy="487.18" r="1.7"/><circle cx="126.37" cy="501.67" r="1.7"/><circle cx="187.15" cy="503.85" r="1.7"/><circle cx="65.69" cy="492.04" r="1.7"/><circle cx="118.19" cy="495.78" r="1.7"/><circle cx="63.88" cy="498.41" r="1.7"/><circle cx="123.95" cy="497.14" r="1.7"/><circle cx="59.86" cy="489.42" r="1.7"/><circle cx="118.56" cy="494.42" r="1.7"/><circle cx="61.57" cy="559.49" r="1.7"/><circle cx="118.25" cy="561.39" r="1.7"/><circle cx="192.75" cy="561.31" r="1.7"/><circle cx="62.89" cy="538.9" r="1.7"/><circle cx="62.07" cy="481.47" r="1.7"/><circle cx="63.32" cy="507.43" r="1.7"/><circle cx="121.18" cy="509.42" r="1.7"/><circle cx="183.53" cy="515.74" r="1.7"/><circle cx="132.8" cy="533.15" r="1.7"/><circle cx="135.83" cy="475.48" r="1.7"/><circle cx="185.54" cy="476.98" r="1.7"/><circle cx="64" cy="587.23" r="1.7"/><circle cx="65.56" cy="511.19" r="1.7"/><circle cx="132" cy="513.35" r="1.7"/><circle cx="183.89" cy="525.91" r="1.7"/><circle cx="61.05" cy="493.53" r="1.7"/><circle cx="62.29" cy="487.92" r="1.7"/><circle cx="116.43" cy="493.51" r="1.7"/><circle cx="65.17" cy="530.75" r="1.7"/><circle cx="58.96" cy="499.92" r="1.7"/><circle cx="121.39" cy="512.96" r="1.7"/><circle cx="191.86" cy="519.92" r="1.7"/><circle cx="58.63" cy="522.09" r="1.7"/><circle cx="120.52" cy="538.14" r="1.7"/><circle cx="65.68" cy="483.81" r="1.7"/><circle cx="124.18" cy="496.23" r="1.7"/><circle cx="65.86" cy="508.18" r="1.7"/><circle cx="127.34" cy="511.78" r="1.7"/><circle cx="192.84" cy="514.54" r="1.7"/><circle cx="60.77" cy="474.97" r="1.7"/><circle cx="130.4" cy="484.14" r="1.7"/><circle cx="65.91" cy="506.68" r="1.7"/><circle cx="127.25" cy="510.2" r="1.7"/><circle cx="57.42" cy="536.36" r="1.7"/><circle cx="131.97" cy="524.42" r="1.7"/><circle cx="190.74" cy="535.71" r="1.7"/><circle cx="60.03" cy="510.06" r="1.7"/><circle cx="126.06" cy="518.07" r="1.7"/><circle cx="185.57" cy="534.33" r="1.7"/><circle cx="189.15" cy="495.45" r="1.7"/><circle cx="61.56" cy="620.75" r="1.7"/><circle cx="62.9" cy="620.75" r="1.7"/><circle cx="61.97" cy="620.75" r="1.7"/><circle cx="65.48" cy="620.75" r="1.7"/><circle cx="68.3" cy="620.75" r="1.7"/><circle cx="65.98" cy="620.75" r="1.7"/><circle cx="64.62" cy="620.75" r="1.7"/><circle cx="54.73" cy="620.75" r="1.7"/><circle cx="58.89" cy="620.75" r="1.7"/><circle cx="66.97" cy="620.75" r="1.7"/><circle cx="59.26" cy="620.75" r="1.7"/><circle cx="68.16" cy="620.75" r="1.7"/><circle cx="64.32" cy="620.75" r="1.7"/><circle cx="63.94" cy="620.75" r="1.7"/><circle cx="127.03" cy="620.75" r="1.7"/><circle cx="127.8" cy="620.75" r="1.7"/><circle cx="118.16" cy="620.75" r="1.7"/><circle cx="126.89" cy="620.75" r="1.7"/><circle cx="121.08" cy="620.75" r="1.7"/><circle cx="121.63" cy="620.75" r="1.7"/><circle cx="119.26" cy="620.75" r="1.7"/><circle cx="116.14" cy="620.75" r="1.7"/><circle cx="124.59" cy="620.75" r="1.7"/><circle cx="123.8" cy="620.75" r="1.7"/><circle cx="123.51" cy="620.75" r="1.7"/><circle cx="183.63" cy="620.75" r="1.7"/><circle cx="184.71" cy="620.75" r="1.7"/><circle cx="188.81" cy="620.75" r="1.7"/><circle cx="181.31" cy="620.75" r="1.7"/><circle cx="189.35" cy="620.75" r="1.7"/><circle cx="198.31" cy="620.75" r="1.7"/><circle cx="185.91" cy="620.75" r="1.7"/><circle cx="185.6" cy="620.75" r="1.7"/><circle cx="195.35" cy="620.75" r="1.7"/></g>
<g class="pt"><circle cx="322.3" cy="482.8" r="1.7"/><circle cx="318.5" cy="486.5" r="1.7"/><circle cx="316.9" cy="491.8" r="1.7"/><circle cx="314.2" cy="494.6" r="1.7"/><circle cx="318.5" cy="497.7" r="1.7"/><circle cx="320.8" cy="510" r="1.7"/><circle cx="315.4" cy="520.5" r="1.7"/><circle cx="319.2" cy="518.9" r="1.7"/><circle cx="321.2" cy="519.2" r="1.7"/><circle cx="321.5" cy="521.5" r="1.7"/><circle cx="317.2" cy="526.2" r="1.7"/><circle cx="321.5" cy="527.4" r="1.7"/><circle cx="317.2" cy="532.3" r="1.7"/><circle cx="321.5" cy="538" r="1.7"/><circle cx="317.2" cy="540.5" r="1.7"/><circle cx="317.2" cy="545.7" r="1.7"/><circle cx="319.2" cy="548.5" r="1.7"/><circle cx="320.3" cy="550" r="1.7"/><circle cx="315.4" cy="550.8" r="1.7"/><circle cx="318.5" cy="556.9" r="1.7"/><circle cx="316.9" cy="566.2" r="1.7"/><circle cx="318.2" cy="567.7" r="1.7"/><circle cx="318.8" cy="571.5" r="1.7"/><circle cx="316.2" cy="573.8" r="1.7"/><circle cx="316.9" cy="575.1" r="1.7"/><circle cx="318.2" cy="576.2" r="1.7"/><circle cx="320.3" cy="577.7" r="1.7"/><circle cx="322.3" cy="581.8" r="1.7"/><circle cx="317.7" cy="586.2" r="1.7"/><circle cx="318.2" cy="588.5" r="1.7"/><circle cx="315" cy="620.75" r="1.7"/><circle cx="315.42" cy="620.75" r="1.7"/><circle cx="315.97" cy="620.75" r="1.7"/><circle cx="317.46" cy="620.75" r="1.7"/><circle cx="317.31" cy="620.75" r="1.7"/><circle cx="318.37" cy="620.75" r="1.7"/><circle cx="318.84" cy="620.75" r="1.7"/><circle cx="319.13" cy="620.75" r="1.7"/><circle cx="320.38" cy="620.75" r="1.7"/><circle cx="320.26" cy="620.75" r="1.7"/><circle cx="366.2" cy="487.7" r="1.7"/><circle cx="370" cy="500.5" r="1.7"/><circle cx="365.4" cy="520.8" r="1.7"/><circle cx="366.2" cy="523.5" r="1.7"/><circle cx="365.4" cy="526.2" r="1.7"/><circle cx="370" cy="540.5" r="1.7"/><circle cx="366.2" cy="542.5" r="1.7"/><circle cx="368.5" cy="543.4" r="1.7"/><circle cx="368.9" cy="548.2" r="1.7"/><circle cx="366.5" cy="550.8" r="1.7"/><circle cx="365.4" cy="556.2" r="1.7"/><circle cx="365.4" cy="557.7" r="1.7"/><circle cx="364.6" cy="564.6" r="1.7"/><circle cx="370.5" cy="563.8" r="1.7"/><circle cx="367.7" cy="568.5" r="1.7"/><circle cx="362.8" cy="575.1" r="1.7"/><circle cx="360.8" cy="577.7" r="1.7"/><circle cx="364.6" cy="580" r="1.7"/><circle cx="366.9" cy="580.3" r="1.7"/><circle cx="372.3" cy="578.5" r="1.7"/><circle cx="366.9" cy="583.1" r="1.7"/><circle cx="366.2" cy="586.2" r="1.7"/><circle cx="361.47" cy="620.75" r="1.7"/><circle cx="361.82" cy="620.75" r="1.7"/><circle cx="363.17" cy="620.75" r="1.7"/><circle cx="363.91" cy="620.75" r="1.7"/><circle cx="364.96" cy="620.75" r="1.7"/><circle cx="366.79" cy="620.75" r="1.7"/><circle cx="367.57" cy="620.75" r="1.7"/><circle cx="367.96" cy="620.75" r="1.7"/><circle cx="369.64" cy="620.75" r="1.7"/><circle cx="369.82" cy="620.75" r="1.7"/><circle cx="371.02" cy="620.75" r="1.7"/><circle cx="372.56" cy="620.75" r="1.7"/><circle cx="373.29" cy="620.75" r="1.7"/><circle cx="373.63" cy="620.75" r="1.7"/><circle cx="429.2" cy="494.8" r="1.7"/><circle cx="433.2" cy="495.9" r="1.7"/><circle cx="433.6" cy="501" r="1.7"/><circle cx="434.7" cy="508.1" r="1.7"/><circle cx="425.9" cy="516.9" r="1.7"/><circle cx="435" cy="526" r="1.7"/><circle cx="429.9" cy="528.6" r="1.7"/><circle cx="432.7" cy="530.8" r="1.7"/><circle cx="431" cy="540.4" r="1.7"/><circle cx="432.1" cy="542.6" r="1.7"/><circle cx="431" cy="544.1" r="1.7"/><circle cx="437.2" cy="550.8" r="1.7"/><circle cx="431" cy="559.9" r="1.7"/><circle cx="428.8" cy="568.3" r="1.7"/><circle cx="426.1" cy="571.6" r="1.7"/><circle cx="420.4" cy="571.6" r="1.7"/><circle cx="429.9" cy="575" r="1.7"/><circle cx="429.2" cy="575.4" r="1.7"/><circle cx="428.3" cy="580.9" r="1.7"/><circle cx="427.7" cy="587.6" r="1.7"/><circle cx="423.19" cy="620.75" r="1.7"/><circle cx="423.47" cy="620.75" r="1.7"/><circle cx="424.73" cy="620.75" r="1.7"/><circle cx="426.56" cy="620.75" r="1.7"/><circle cx="427.23" cy="620.75" r="1.7"/><circle cx="428.4" cy="620.75" r="1.7"/><circle cx="429.34" cy="620.75" r="1.7"/><circle cx="430.57" cy="620.75" r="1.7"/><circle cx="432.37" cy="620.75" r="1.7"/><circle cx="433.17" cy="620.75" r="1.7"/><circle cx="434.81" cy="620.75" r="1.7"/><circle cx="435.74" cy="620.75" r="1.7"/><circle cx="501.1" cy="481.5" r="1.7"/><circle cx="495.8" cy="494.3" r="1.7"/><circle cx="492.9" cy="515.8" r="1.7"/><circle cx="495.6" cy="516.9" r="1.7"/><circle cx="500.7" cy="526" r="1.7"/><circle cx="494.7" cy="531.5" r="1.7"/><circle cx="490.7" cy="543.3" r="1.7"/><circle cx="491.8" cy="547.3" r="1.7"/><circle cx="494" cy="559.5" r="1.7"/><circle cx="493.4" cy="562.8" r="1.7"/><circle cx="494" cy="572.1" r="1.7"/><circle cx="484.1" cy="574.3" r="1.7"/><circle cx="488.94" cy="620.75" r="1.7"/><circle cx="490.55" cy="620.75" r="1.7"/><circle cx="490.98" cy="620.75" r="1.7"/><circle cx="492.09" cy="620.75" r="1.7"/><circle cx="493.44" cy="620.75" r="1.7"/><circle cx="493.62" cy="620.75" r="1.7"/></g>
<path d="M51.88,35.2H73.12" class="st"/>
<path d="M51.88,168.75H73.12" class="st"/>
<rect x="41.3" y="45.4" width="42.5" height="46.6" class="bx"/>
<path d="M41.8,65.3H83.3" class="md"/>
<path d="M115.95,43.8H137.05" class="st"/>
<path d="M115.95,168.75H137.05" class="st"/>
<rect x="105.3" y="55" width="42.2" height="42.3" class="bx"/>
<path d="M105.8,74.6H147" class="md"/>
<path d="M179.43,51.2H200.57" class="st"/>
<path d="M179.43,168.75H200.57" class="st"/>
<rect x="168.5" y="62.1" width="42.3" height="43.3" class="bx"/>
<path d="M169,80H210.3" class="md"/>
<path d="M307.38,93H328.62" class="st"/>
<path d="M307.38,168.75H328.62" class="st"/>
<rect x="296.5" y="100.5" width="42.5" height="68.25" class="bx"/>
<path d="M297,168.75H338.5" class="md"/>
<path d="M296.5,168.75H339" class="mb"/>
<path d="M355.62,115.2H376.77" class="st"/>
<path d="M355.62,168.75H376.77" class="st"/>
<rect x="344.4" y="126.4" width="42.3" height="42.35" class="bx"/>
<path d="M344.9,168.75H386.2" class="md"/>
<path d="M344.4,168.75H386.7" class="mb"/>
<path d="M418.98,97.5H440.23" class="st"/>
<path d="M418.98,168.75H440.23" class="st"/>
<rect x="407.5" y="108" width="42.5" height="60.75" class="bx"/>
<path d="M408,168.75H449.5" class="md"/>
<path d="M407.5,168.75H450" class="mb"/>
<path d="M482.34,62.5H503.46" class="st"/>
<path d="M482.34,168.75H503.46" class="st"/>
<rect x="471.25" y="72.5" width="42.25" height="96.25" class="bx"/>
<path d="M471.75,121.75H513" class="md"/>
<path d="M51.94,278.75H73.06" class="st"/>
<path d="M51.94,394.75H73.06" class="st"/>
<rect x="41.5" y="289.75" width="42.25" height="67.25" class="bx"/>
<path d="M42,310.5H83.25" class="md"/>
<path d="M115.88,291.5H137.12" class="st"/>
<path d="M115.88,394.75H137.12" class="st"/>
<rect x="105" y="301.5" width="42.5" height="34.5" class="bx"/>
<path d="M105.5,312.75H147" class="md"/>
<path d="M179.38,295.25H200.62" class="st"/>
<path d="M179.38,394.75H200.62" class="st"/>
<rect x="168.25" y="304.25" width="42.5" height="50.25" class="bx"/>
<path d="M168.75,328H210.25" class="md"/>
<path d="M307.31,349.25H328.69" class="st"/>
<path d="M307.31,394.75H328.69" class="st"/>
<rect x="296.75" y="354.5" width="42.75" height="39.75" class="bx"/>
<path d="M297.25,394.25H339" class="md"/>
<path d="M296.75,394.25H339.5" class="mb"/>
<path d="M355.62,394.75H376.77" class="st"/>
<path d="M344.9,394.25H386.2" class="md"/>
<path d="M344.4,394.25H386.7" class="cb"/>
<path d="M418.9,334.2H440.3" class="st"/>
<path d="M418.9,394.75H440.3" class="st"/>
<rect x="407.7" y="345.6" width="42.8" height="48.65" class="bx"/>
<path d="M408.2,394.25H450" class="md"/>
<path d="M407.7,394.25H450.5" class="mb"/>
<path d="M482.32,289.3H503.47" class="st"/>
<path d="M482.32,394.75H503.47" class="st"/>
<rect x="471.5" y="300.6" width="42.3" height="93.65" class="bx"/>
<path d="M472,394.25H513.3" class="md"/>
<path d="M471.5,394.25H513.8" class="mb"/>
<path d="M51.75,483H73.25" class="st"/>
<path d="M51.75,620.75H73.25" class="st"/>
<rect x="41.2" y="494.4" width="43" height="45" class="bx"/>
<path d="M41.7,513.5H83.7" class="md"/>
<path d="M115.95,492.6H137.05" class="st"/>
<path d="M115.95,620.75H137.05" class="st"/>
<rect x="105.3" y="503.8" width="42.2" height="41.9" class="bx"/>
<path d="M105.8,520H147" class="md"/>
<path d="M179.28,498.8H200.72" class="st"/>
<path d="M179.28,620.75H200.72" class="st"/>
<rect x="168.6" y="510.3" width="42.9" height="41.9" class="bx"/>
<path d="M169.1,529.7H211" class="md"/>
<path d="M307.38,532.4H328.62" class="st"/>
<path d="M307.38,620.75H328.62" class="st"/>
<rect x="296.7" y="540.3" width="42.5" height="80.7" class="bx"/>
<path d="M297.2,585.7H338.7" class="md"/>
<path d="M355.67,547.9H376.73" class="st"/>
<path d="M355.67,620.75H376.73" class="st"/>
<rect x="344.4" y="557.6" width="42.1" height="63.4" class="bx"/>
<path d="M344.9,621H386" class="md"/>
<path d="M344.4,621H386.5" class="mb"/>
<path d="M418.88,530.5H440.33" class="st"/>
<path d="M418.88,620.75H440.33" class="st"/>
<rect x="407.2" y="541.5" width="42.9" height="79.5" class="bx"/>
<path d="M407.7,583.5H449.6" class="md"/>
<path d="M482.38,525.6H503.42" class="st"/>
<path d="M482.38,620.75H503.42" class="st"/>
<rect x="471.3" y="528.2" width="42.1" height="92.8" class="bx"/>
<path d="M471.8,562.3H512.9" class="md"/>
<text x="5.9" y="14.7" class="let">A</text>
<text x="104.6" y="14.9" class="ttl">IR</text>
<text transform="translate(14.1,95.5) rotate(-90)" class="ytl" text-anchor="middle" textLength="33.5" lengthAdjust="spacingAndGlyphs">MRD level</text>
<path d="M38.3,22.5V168.75" class="ax"/>
<path d="M34.9,22.5H38.3" class="ax"/>
<path d="M34.9,51.75H38.3" class="ax"/>
<path d="M34.9,81H38.3" class="ax"/>
<path d="M34.9,110.25H38.3" class="ax"/>
<path d="M34.9,139.5H38.3" class="ax"/>
<path d="M34.9,168.75H38.3" class="ax"/>
<text x="32" y="25.4" class="tk" text-anchor="end">1</text>
<text x="28.2" y="54.85" class="tk" text-anchor="end">10</text>
<text x="28.4" y="53.05" class="sp">-1</text>
<text x="28.2" y="84.1" class="tk" text-anchor="end">10</text>
<text x="28.4" y="82.3" class="sp">-2</text>
<text x="28.2" y="113.35" class="tk" text-anchor="end">10</text>
<text x="28.4" y="111.55" class="sp">-3</text>
<text x="28.2" y="142.6" class="tk" text-anchor="end">10</text>
<text x="28.4" y="140.8" class="sp">-4</text>
<text x="28.2" y="171.85" class="tk" text-anchor="end">&lt;10</text>
<text x="28.4" y="170.05" class="sp">-4</text>
<path d="M62.5,178.3V174.8H190V178.3" class="ax"/>
<path d="M126.5,174.8V178.3" class="ax"/>
<text transform="translate(65.7,180.6) rotate(-90)" class="xl" text-anchor="end" textLength="35.8" lengthAdjust="spacingAndGlyphs">12 months</text>
<text transform="translate(129.7,180.6) rotate(-90)" class="xl" text-anchor="end" textLength="35.8" lengthAdjust="spacingAndGlyphs">24 months</text>
<text transform="translate(193.2,180.6) rotate(-90)" class="xl" text-anchor="end" textLength="35.8" lengthAdjust="spacingAndGlyphs">36 months</text>
<text x="262.79999999999995" y="14.7" class="let">B</text>
<text x="402.2" y="14.9" class="ttl">FCR</text>
<text transform="translate(269.1,95.5) rotate(-90)" class="ytl" text-anchor="middle" textLength="33.5" lengthAdjust="spacingAndGlyphs">MRD level</text>
<path d="M293.3,22.5V168.75" class="ax"/>
<path d="M289.9,22.5H293.3" class="ax"/>
<path d="M289.9,51.75H293.3" class="ax"/>
<path d="M289.9,81H293.3" class="ax"/>
<path d="M289.9,110.25H293.3" class="ax"/>
<path d="M289.9,139.5H293.3" class="ax"/>
<path d="M289.9,168.75H293.3" class="ax"/>
<text x="287" y="25.4" class="tk" text-anchor="end">1</text>
<text x="283.2" y="54.85" class="tk" text-anchor="end">10</text>
<text x="283.4" y="53.05" class="sp">-1</text>
<text x="283.2" y="84.1" class="tk" text-anchor="end">10</text>
<text x="283.4" y="82.3" class="sp">-2</text>
<text x="283.2" y="113.35" class="tk" text-anchor="end">10</text>
<text x="283.4" y="111.55" class="sp">-3</text>
<text x="283.2" y="142.6" class="tk" text-anchor="end">10</text>
<text x="283.4" y="140.8" class="sp">-4</text>
<text x="283.2" y="171.85" class="tk" text-anchor="end">&lt;10</text>
<text x="283.4" y="170.05" class="sp">-4</text>
<path d="M318,178.3V174.8H492.9V178.3" class="ax"/>
<path d="M366.2,174.8V178.3" class="ax"/>
<path d="M429.6,174.8V178.3" class="ax"/>
<text transform="translate(321.2,180.6) rotate(-90)" class="xl" text-anchor="end" textLength="32.2" lengthAdjust="spacingAndGlyphs">3 months</text>
<text transform="translate(369.4,180.6) rotate(-90)" class="xl" text-anchor="end" textLength="35.8" lengthAdjust="spacingAndGlyphs">12 months</text>
<text transform="translate(432.8,180.6) rotate(-90)" class="xl" text-anchor="end" textLength="35.8" lengthAdjust="spacingAndGlyphs">24 months</text>
<text transform="translate(496.1,180.6) rotate(-90)" class="xl" text-anchor="end" textLength="35.8" lengthAdjust="spacingAndGlyphs">36 months</text>
<text x="5.9" y="245.4" class="let">C</text>
<text x="95.6" y="242.6" class="ttl">IR, CR</text>
<text transform="translate(14.1,321.5) rotate(-90)" class="ytl" text-anchor="middle" textLength="33.5" lengthAdjust="spacingAndGlyphs">MRD level</text>
<path d="M38.3,248.5V394.75" class="ax"/>
<path d="M34.9,248.5H38.3" class="ax"/>
<path d="M34.9,277.75H38.3" class="ax"/>
<path d="M34.9,307H38.3" class="ax"/>
<path d="M34.9,336.25H38.3" class="ax"/>
<path d="M34.9,365.5H38.3" class="ax"/>
<path d="M34.9,394.75H38.3" class="ax"/>
<text x="32" y="251.4" class="tk" text-anchor="end">1</text>
<text x="28.2" y="280.85" class="tk" text-anchor="end">10</text>
<text x="28.4" y="279.05" class="sp">-1</text>
<text x="28.2" y="310.1" class="tk" text-anchor="end">10</text>
<text x="28.4" y="308.3" class="sp">-2</text>
<text x="28.2" y="339.35" class="tk" text-anchor="end">10</text>
<text x="28.4" y="337.55" class="sp">-3</text>
<text x="28.2" y="368.6" class="tk" text-anchor="end">10</text>
<text x="28.4" y="366.8" class="sp">-4</text>
<text x="28.2" y="397.85" class="tk" text-anchor="end">&lt;10</text>
<text x="28.4" y="396.05" class="sp">-4</text>
<path d="M62.5,404.3V400.8H190V404.3" class="ax"/>
<path d="M126.5,400.8V404.3" class="ax"/>
<text transform="translate(65.7,406.6) rotate(-90)" class="xl" text-anchor="end" textLength="35.8" lengthAdjust="spacingAndGlyphs">12 months</text>
<text transform="translate(129.7,406.6) rotate(-90)" class="xl" text-anchor="end" textLength="35.8" lengthAdjust="spacingAndGlyphs">24 months</text>
<text transform="translate(193.2,406.6) rotate(-90)" class="xl" text-anchor="end" textLength="35.8" lengthAdjust="spacingAndGlyphs">36 months</text>
<text x="262.79999999999995" y="245.4" class="let">D</text>
<text x="392.9" y="242.6" class="ttl">FCR, CR</text>
<text transform="translate(269.1,321.5) rotate(-90)" class="ytl" text-anchor="middle" textLength="33.5" lengthAdjust="spacingAndGlyphs">MRD level</text>
<path d="M293.3,248.5V394.75" class="ax"/>
<path d="M289.9,248.5H293.3" class="ax"/>
<path d="M289.9,277.75H293.3" class="ax"/>
<path d="M289.9,307H293.3" class="ax"/>
<path d="M289.9,336.25H293.3" class="ax"/>
<path d="M289.9,365.5H293.3" class="ax"/>
<path d="M289.9,394.75H293.3" class="ax"/>
<text x="287" y="251.4" class="tk" text-anchor="end">1</text>
<text x="283.2" y="280.85" class="tk" text-anchor="end">10</text>
<text x="283.4" y="279.05" class="sp">-1</text>
<text x="283.2" y="310.1" class="tk" text-anchor="end">10</text>
<text x="283.4" y="308.3" class="sp">-2</text>
<text x="283.2" y="339.35" class="tk" text-anchor="end">10</text>
<text x="283.4" y="337.55" class="sp">-3</text>
<text x="283.2" y="368.6" class="tk" text-anchor="end">10</text>
<text x="283.4" y="366.8" class="sp">-4</text>
<text x="283.2" y="397.85" class="tk" text-anchor="end">&lt;10</text>
<text x="283.4" y="396.05" class="sp">-4</text>
<path d="M318,404.3V400.8H492.9V404.3" class="ax"/>
<path d="M366.2,400.8V404.3" class="ax"/>
<path d="M429.6,400.8V404.3" class="ax"/>
<text transform="translate(321.2,406.6) rotate(-90)" class="xl" text-anchor="end" textLength="32.2" lengthAdjust="spacingAndGlyphs">3 months</text>
<text transform="translate(369.4,406.6) rotate(-90)" class="xl" text-anchor="end" textLength="35.8" lengthAdjust="spacingAndGlyphs">12 months</text>
<text transform="translate(432.8,406.6) rotate(-90)" class="xl" text-anchor="end" textLength="35.8" lengthAdjust="spacingAndGlyphs">24 months</text>
<text transform="translate(496.1,406.6) rotate(-90)" class="xl" text-anchor="end" textLength="35.8" lengthAdjust="spacingAndGlyphs">36 months</text>
<text x="5.9" y="466.4" class="let">E</text>
<text x="86.0" y="467.9" class="ttl">IR, not CR</text>
<text transform="translate(14.1,547.5) rotate(-90)" class="ytl" text-anchor="middle" textLength="33.5" lengthAdjust="spacingAndGlyphs">MRD level</text>
<path d="M38.3,474.5V620.75" class="ax"/>
<path d="M34.9,474.5H38.3" class="ax"/>
<path d="M34.9,503.75H38.3" class="ax"/>
<path d="M34.9,533H38.3" class="ax"/>
<path d="M34.9,562.25H38.3" class="ax"/>
<path d="M34.9,591.5H38.3" class="ax"/>
<path d="M34.9,620.75H38.3" class="ax"/>
<text x="32" y="477.4" class="tk" text-anchor="end">1</text>
<text x="28.2" y="506.85" class="tk" text-anchor="end">10</text>
<text x="28.4" y="505.05" class="sp">-1</text>
<text x="28.2" y="536.1" class="tk" text-anchor="end">10</text>
<text x="28.4" y="534.3" class="sp">-2</text>
<text x="28.2" y="565.35" class="tk" text-anchor="end">10</text>
<text x="28.4" y="563.55" class="sp">-3</text>
<text x="28.2" y="594.6" class="tk" text-anchor="end">10</text>
<text x="28.4" y="592.8" class="sp">-4</text>
<text x="28.2" y="623.85" class="tk" text-anchor="end">&lt;10</text>
<text x="28.4" y="622.05" class="sp">-4</text>
<path d="M62.5,630.3V626.8H190V630.3" class="ax"/>
<path d="M126.5,626.8V630.3" class="ax"/>
<text transform="translate(65.7,632.6) rotate(-90)" class="xl" text-anchor="end" textLength="35.8" lengthAdjust="spacingAndGlyphs">12 months</text>
<text transform="translate(129.7,632.6) rotate(-90)" class="xl" text-anchor="end" textLength="35.8" lengthAdjust="spacingAndGlyphs">24 months</text>
<text transform="translate(193.2,632.6) rotate(-90)" class="xl" text-anchor="end" textLength="35.8" lengthAdjust="spacingAndGlyphs">36 months</text>
<text x="262.79999999999995" y="466.4" class="let">F</text>
<text x="382.6" y="467.9" class="ttl">FCR, not CR</text>
<text transform="translate(269.1,547.5) rotate(-90)" class="ytl" text-anchor="middle" textLength="33.5" lengthAdjust="spacingAndGlyphs">MRD level</text>
<path d="M293.3,474.5V620.75" class="ax"/>
<path d="M289.9,474.5H293.3" class="ax"/>
<path d="M289.9,503.75H293.3" class="ax"/>
<path d="M289.9,533H293.3" class="ax"/>
<path d="M289.9,562.25H293.3" class="ax"/>
<path d="M289.9,591.5H293.3" class="ax"/>
<path d="M289.9,620.75H293.3" class="ax"/>
<text x="287" y="477.4" class="tk" text-anchor="end">1</text>
<text x="283.2" y="506.85" class="tk" text-anchor="end">10</text>
<text x="283.4" y="505.05" class="sp">-1</text>
<text x="283.2" y="536.1" class="tk" text-anchor="end">10</text>
<text x="283.4" y="534.3" class="sp">-2</text>
<text x="283.2" y="565.35" class="tk" text-anchor="end">10</text>
<text x="283.4" y="563.55" class="sp">-3</text>
<text x="283.2" y="594.6" class="tk" text-anchor="end">10</text>
<text x="283.4" y="592.8" class="sp">-4</text>
<text x="283.2" y="623.85" class="tk" text-anchor="end">&lt;10</text>
<text x="283.4" y="622.05" class="sp">-4</text>
<path d="M318,630.3V626.8H492.9V630.3" class="ax"/>
<path d="M366.2,626.8V630.3" class="ax"/>
<path d="M429.6,626.8V630.3" class="ax"/>
<text transform="translate(321.2,632.6) rotate(-90)" class="xl" text-anchor="end" textLength="32.2" lengthAdjust="spacingAndGlyphs">3 months</text>
<text transform="translate(369.4,632.6) rotate(-90)" class="xl" text-anchor="end" textLength="35.8" lengthAdjust="spacingAndGlyphs">12 months</text>
<text transform="translate(432.8,632.6) rotate(-90)" class="xl" text-anchor="end" textLength="35.8" lengthAdjust="spacingAndGlyphs">24 months</text>
<text transform="translate(496.1,632.6) rotate(-90)" class="xl" text-anchor="end" textLength="35.8" lengthAdjust="spacingAndGlyphs">36 months</text>
<rect x="0.65" y="0.65" width="518.7" height="676.7" fill="none" stroke="#111" stroke-width="1.3"/>
</svg>
</body></html>
